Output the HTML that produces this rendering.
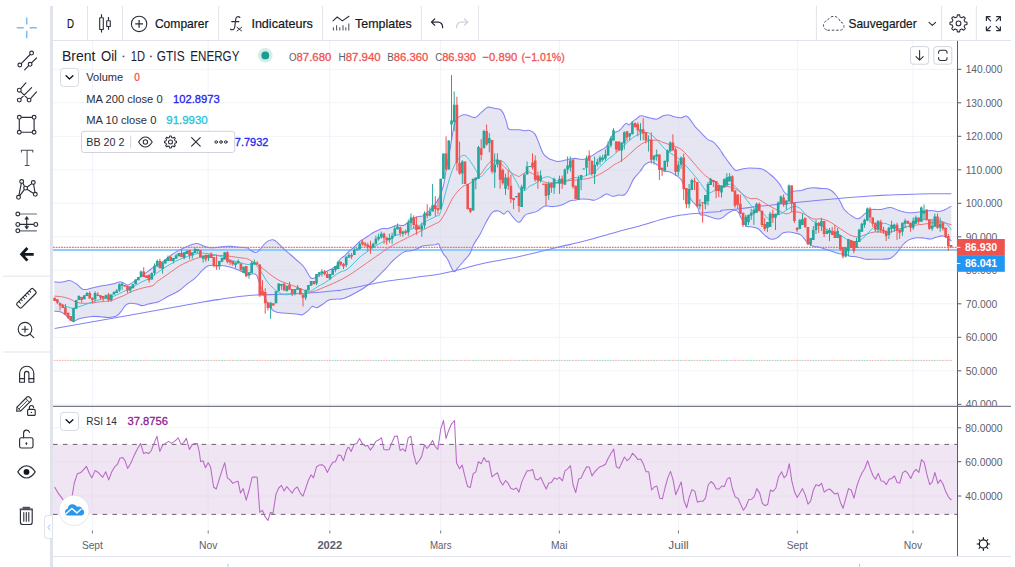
<!DOCTYPE html><html lang="fr"><head><meta charset="utf-8"><title>Brent Oil 1D - Chart</title><style>
html,body{margin:0;padding:0;background:#fff;}
body{width:1015px;height:567px;overflow:hidden;position:relative;font-family:"Liberation Sans",sans-serif;color:#131722;}
#app{position:absolute;left:0;top:0;width:1015px;height:567px;overflow:hidden;background:#fff;}
.left-toolbar{position:absolute;left:0;top:0;width:50px;height:567px;background:#fff;}
.splitter{position:absolute;left:50px;top:6px;width:3px;height:561px;background:#e0e3eb;}
.top-toolbar{position:absolute;left:0;top:0;width:1015px;height:41px;}
.chart-area{position:absolute;left:0;top:0;width:1015px;height:567px;}
.toggle-tab{position:absolute;left:44px;top:515px;width:7px;height:22px;background:#fff;border:1px solid #e0e3eb;border-radius:4px 0 0 4px;border-right:none}
svg{display:block;overflow:visible}
svg text{white-space:pre}
</style></head><body><div id="app">
<div class="chart-area" role="img" aria-label="Brent Oil 1D chart with Bollinger Bands, MA 200, MA 10 and RSI 14"><svg class="chart-svg" width="1015" height="567" viewBox="0 0 1015 567" style="position:absolute;left:0;top:0" font-family='"Liberation Sans", sans-serif'>
<defs><clipPath id="p1"><rect x="53" y="41" width="904.5" height="364.8"/></clipPath><clipPath id="p2"><rect x="53" y="406.8" width="904.5" height="123.2"/></clipPath><clipPath id="ax1"><rect x="958" y="41" width="53" height="364.8"/></clipPath></defs>
<path d="M92.4 41V405.8M92.4 406.8V530M208.2 41V405.8M208.2 406.8V530M329.8 41V405.8M329.8 406.8V530M440.7 41V405.8M440.7 406.8V530M559.3 41V405.8M559.3 406.8V530M678.5 41V405.8M678.5 406.8V530M797.3 41V405.8M797.3 406.8V530M913 41V405.8M913 406.8V530M53 69.3H957M53 102.8H957M53 136.3H957M53 169.8H957M53 203.3H957M53 236.8H957M53 270.3H957M53 303.8H957M53 337.3H957M53 370.8H957M53 404.3H957M53 427.8H957M53 461.7H957M53 496H957" stroke="#f0f3fa" stroke-width="1" fill="none"/>
<g clip-path="url(#p1)">
<clipPath id="bbclip"><path d="M54.3 281.8 C55.8 281.9 59.8 282.4 62.5 282.1 C65.3 281.9 67.1 280.2 69.7 280.6 C72.2 280.9 74.4 282.6 76.8 284.2 C79.2 285.8 80.6 288.7 83.2 289.4 C85.7 290.2 88 288.8 91.1 288.2 C94.2 287.6 97.2 286.8 100.6 286.1 C104 285.5 106.7 285.2 110.1 284.5 C113.6 283.8 117.4 282.5 119.7 282.1 C122 281.8 121.4 282.1 122.8 282.6 C124.3 283.1 125.9 285 127.6 285 C129.3 285 130.1 284 132.4 282.6 C134.7 281.2 137.4 279.1 140.3 277.1 C143.2 275 146 272.9 148.2 271.2 C150.5 269.5 151.6 268.5 153 267.5 C154.4 266.6 154 267 155.9 265.8 C157.9 264.6 161 263 163.9 261 C166.7 259 169 256.7 171.8 254.7 C174.7 252.7 176.9 251.4 179.7 249.9 C182.6 248.4 184.8 247.4 187.7 246.3 C190.5 245.1 193.6 244 195.6 243.6 C197.6 243.1 197.4 243.5 198.8 243.9 C200.2 244.3 201.8 245.3 203.6 246 C205.3 246.6 206 247.3 208.3 247.5 C210.6 247.8 213.4 247.7 216.3 247.5 C219.1 247.3 221.3 246.6 224.2 246.4 C227 246.2 229.3 246.3 232.1 246.4 C235 246.6 237.2 246.9 240.1 247.2 C242.9 247.5 246.3 247.5 248 248 C249.7 248.5 248.3 249.1 249.7 249.9 C251.1 250.7 254 252.6 255.8 252.5 C257.6 252.4 258 251.3 259.9 249.5 C261.7 247.6 263.8 244.1 266 242.4 C268.1 240.6 270.2 239.9 272 239.7 C273.9 239.5 274.3 240 276.1 241.4 C277.9 242.7 279.6 245.1 282.2 247.4 C284.7 249.8 287.4 252 290.3 254.5 C293.2 257.1 295.8 259.3 298.4 261.6 C300.9 264 302.2 264.7 304.5 267.7 C306.8 270.7 308.9 276.7 311.3 278.2 C313.6 279.7 315 277.1 317.6 276 C320.2 274.8 323 273.1 325.5 271.8 C328.1 270.5 329.6 270 331.9 268.7 C334.2 267.3 336.8 266 338.2 264.4 C339.7 262.7 338.8 261.1 340 259.5 C341.2 257.9 343 257.1 344.8 255.6 C346.5 254 347.8 252.4 349.5 250.8 C351.2 249.2 352.6 248.4 354.3 246.8 C356 245.3 357.3 243.5 359 242.1 C360.8 240.6 362.1 240 363.8 238.9 C365.5 237.7 366.9 236.9 368.6 235.7 C370.3 234.6 371.6 233.5 373.3 232.5 C375 231.5 376.4 230.9 378.1 230.2 C379.8 229.4 381.1 228.9 382.9 228.6 C384.6 228.3 385.9 228.9 387.6 228.6 C389.3 228.3 390.7 227.6 392.4 227 C394.1 226.4 395.1 225.4 397.1 225.1 C399.1 224.8 401.5 225.9 403.5 225.4 C405.5 224.9 406.5 223.4 408.3 222.2 C410 221.1 411.3 220 413 219 C414.7 218 416.1 217.2 417.8 216.7 C419.5 216.1 421.1 216.4 422.5 215.9 C424 215.3 424.6 214.3 425.7 213.5 C426.9 212.6 427.5 212.4 428.9 211.1 C430.3 209.8 431.8 208.9 433.7 206.3 C435.5 203.8 437.5 201 439.3 197.2 C441.1 193.3 442.3 190.3 443.6 184.9 C444.9 179.6 445.5 173.4 446.6 167.3 C447.7 161.2 448.6 157.3 449.7 151.1 C450.8 144.9 451.6 138.3 452.7 132.8 C453.8 127.4 454.3 123.8 455.7 120.7 C457.2 117.6 458.8 116.6 460.8 115.6 C462.8 114.6 464.3 114.6 466.9 115 C469.5 115.4 472.5 118.1 475 117.6 C477.6 117.2 478.9 114.4 481.1 112.6 C483.3 110.7 485.3 108.4 487.2 107.5 C489 106.6 489.8 107.3 491.2 107.5 C492.7 107.7 493.6 108.2 495.3 108.5 C496.9 108.9 498.9 108.6 500.3 109.5 C501.8 110.4 502.3 111.4 503.4 113.6 C504.5 115.8 505.5 119 506.4 121.7 C507.3 124.4 507.2 127.3 508.5 128.8 C509.7 130.2 511.5 129.6 513.5 129.8 C515.5 130 517.6 129.6 519.6 129.8 C521.6 130 522.8 130.7 524.7 130.8 C526.5 130.9 527.9 129.9 529.7 130.4 C531.6 131 533.2 131.6 534.8 133.9 C536.4 136.1 537.4 139.5 538.9 143 C540.3 146.4 541.5 150.6 542.9 153.1 C544.4 155.7 545.7 156.1 547 157.2 C548.2 158.3 548.1 158.4 550 159.2 C551.9 160 554.8 161.3 557.6 161.4 C560.4 161.6 562.8 160.5 565.7 160 C568.6 159.5 570.9 158.5 573.8 158.4 C576.7 158.3 579.7 159.3 581.9 159.4 C584.1 159.4 584.2 159.3 586.1 158.7 C587.9 158 590 156.9 592.2 155.6 C594.4 154.3 595.9 153 598.2 151.6 C600.6 150.1 603.5 149.2 605.3 147.6 C607.1 146.1 607.2 145.1 608.5 142.9 C609.7 140.7 610.8 137.4 612.2 135.5 C613.5 133.5 614.7 132.8 615.9 132 C617 131.2 617.6 131.6 618.5 131 C619.5 130.3 620.2 129.6 621.2 128.6 C622.1 127.6 622.9 126.4 623.8 125.4 C624.8 124.5 625.5 123.4 626.5 123.3 C627.4 123.2 628.1 125.1 629.1 124.9 C630.1 124.7 630.8 123.1 631.7 122.2 C632.7 121.4 633.4 120.8 634.4 120.1 C635.3 119.4 635.9 119.3 637 118.5 C638.2 117.7 638.7 115.8 640.8 115.7 C643 115.5 646 117.1 648.9 117.7 C651.8 118.3 654.5 119.5 657 119.1 C659.6 118.8 660.9 116.4 663.1 115.7 C665.3 114.9 667 114.8 669.2 115.1 C671.4 115.3 673.1 116.6 675.3 117.1 C677.5 117.6 679.4 117.9 681.4 117.7 C683.4 117.5 684.8 115.6 686.4 116.1 C688.1 116.5 688.8 118.1 690.5 120.1 C692.1 122.1 693.5 124.9 695.5 127.2 C697.6 129.6 699.4 131.1 701.6 133.3 C703.8 135.5 705.5 137.8 707.7 139.4 C709.9 141 711.6 140.6 713.8 142.4 C716 144.3 718 147.1 719.9 149.5 C721.7 152 722.2 153.4 724.1 156 C725.9 158.6 728.1 161.6 730.1 164.1 C732.1 166.7 733.4 169.2 735.2 170.2 C737 171.2 738.3 170 740.3 169.6 C742.3 169.2 743.8 168.4 746.4 168.2 C748.9 167.9 751.5 168 754.5 168.2 C757.4 168.4 760 168.3 762.6 169.2 C765.1 170.1 766.5 171.6 768.7 173.2 C770.8 174.9 772.7 176.3 774.7 178.3 C776.7 180.3 778.2 182 779.8 184.4 C781.4 186.8 782.6 189.7 783.9 191.5 C785.1 193.3 785.8 194.3 786.9 194.5 C788 194.7 788.5 193.1 789.9 192.5 C791.4 191.9 793 191.4 795 191.1 C797 190.7 798.9 190.9 801.1 190.5 C803.3 190 805 188.9 807.2 188.4 C809.4 188 810.7 187.8 813.2 187.8 C815.8 187.8 818.4 188.2 821.4 188.4 C824.3 188.7 826.9 188.4 829.5 189.5 C832 190.6 833.7 192.5 835.5 194.5 C837.4 196.5 838.1 198.1 839.6 200.6 C841.1 203.2 842.2 206.5 843.7 208.7 C845.1 210.9 846.6 211.7 847.7 212.8 C848.9 213.8 848.1 213.5 850 214.6 C851.9 215.7 855.2 219 858.1 218.7 C861 218.3 863.7 214.2 866.2 212.6 C868.8 210.9 869.7 210.1 872.3 209.5 C874.9 209 877.1 209.9 880.4 209.5 C883.7 209.2 887.3 207.3 890.5 207.5 C893.8 207.7 895.7 209.6 898.7 210.5 C901.6 211.5 903.8 212.2 906.8 212.6 C909.7 212.9 912 212.8 914.9 212.6 C917.8 212.4 920.1 211.9 923 211.6 C925.9 211.2 928.2 210.5 931.1 210.5 C934 210.5 936.6 211.7 939.2 211.6 C941.7 211.4 943.1 210.5 945.3 209.5 C947.5 208.5 950.3 206.7 951.4 206.1 L951.4 241 C950.6 240.4 948.8 238.8 947.3 237.9 C945.8 237 945.1 236.1 943.2 235.9 C941.4 235.7 939.4 236.3 937.2 236.9 C935 237.4 933.6 238.7 931.1 238.9 C928.5 239.1 925.9 238.1 923 237.9 C920.1 237.7 917.4 237.5 914.9 237.9 C912.3 238.3 911 238.7 908.8 239.9 C906.6 241.2 904.9 242.6 902.7 245 C900.5 247.4 898.8 250.7 896.6 253.1 C894.4 255.5 893.1 257.1 890.5 258.2 C888 259.3 885.4 259 882.4 259.2 C879.5 259.4 877.2 259.2 874.3 259.2 C871.4 259.2 869.1 259.6 866.2 259.2 C863.3 258.8 861 257.7 858.1 257.2 C855.2 256.6 851.9 256.6 850 256.2 C848.1 255.8 848.9 255.3 847.7 254.9 C846.6 254.6 845.5 254.6 843.7 254.3 C841.8 254 839.8 253.9 837.6 253.3 C835.4 252.8 833.7 252 831.5 251.3 C829.3 250.6 827.6 250 825.4 249.3 C823.2 248.5 821.5 247.8 819.3 247.2 C817.1 246.7 815.4 247.1 813.2 246.2 C811.1 245.3 809.4 244.2 807.2 242.2 C805 240.2 803.3 236.7 801.1 235.1 C798.9 233.4 797.2 233.6 795 233 C792.8 232.5 791.1 232 788.9 232 C786.7 232 785 232 782.8 233 C780.7 234.1 778.9 237 776.8 238.1 C774.6 239.2 772.9 239.7 770.7 239.1 C768.5 238.6 766.8 236.9 764.6 235.1 C762.4 233.2 760.7 230.5 758.5 229 C756.3 227.5 754.6 227.5 752.4 227 C750.2 226.4 748.4 227.5 746.4 226 C744.3 224.4 742.8 220.8 741.3 218.3 C739.8 215.7 739.4 213.3 738.1 211.9 C736.8 210.5 735.8 210.2 734.1 210.3 C732.4 210.5 730.4 211.6 728.6 212.7 C726.7 213.8 725.5 215.5 723.8 216.7 C722.1 217.8 720.8 218.8 719 219 C717.3 219.3 716 218.7 714.3 218.3 C712.6 217.8 711.2 217.2 709.5 216.7 C707.8 216.1 706.5 215.5 704.8 215.1 C703 214.7 701.3 215.7 700 214.3 C698.7 212.9 699.1 209.8 697.6 207.3 C696 204.8 693.7 203.3 691.5 200.2 C689.3 197.1 687.2 193.7 685.4 190.1 C683.6 186.4 683.2 182.7 681.4 179.9 C679.5 177.2 677.5 176.3 675.3 174.9 C673.1 173.4 671.4 172.6 669.2 171.8 C667 171.1 665.3 172.1 663.1 170.8 C660.9 169.5 659.2 166.4 657 164.7 C654.8 163.1 653.1 161.7 651 161.7 C648.8 161.7 646.9 162.9 644.9 164.7 C642.9 166.6 641.8 169.3 639.8 171.8 C637.8 174.4 635.7 175.8 633.7 178.9 C631.7 182 630.3 186.2 628.7 189.1 C627 191.9 626.4 193.6 624.6 194.7 C622.8 195.8 620.7 194.9 618.5 195.1 C616.3 195.4 614.6 196.3 612.4 196.2 C610.2 196 608.5 193.9 606.4 194.1 C604.2 194.4 602.5 196.5 600.3 197.6 C598.1 198.7 596.4 199.9 594.2 200.2 C592 200.5 590.3 199.4 588.1 199.2 C585.9 199 583.4 198.9 581.9 198.9 C580.4 198.9 581.1 199 580 199.2 C578.9 199.4 577.7 199.6 575.8 199.9 C574 200.3 572.3 200 569.7 201 C567.2 201.9 564.5 204 561.6 205 C558.7 206 556.4 206.4 553.5 206.6 C550.6 206.8 547.6 205.8 545.4 206 C543.2 206.3 542.8 207.1 541.4 208 C539.9 209 539.1 210.2 537.3 211.1 C535.5 212 533.4 212.4 531.2 213.1 C529 213.8 527.3 213.5 525.1 215.1 C523 216.8 521.2 221.9 519.1 222.2 C516.9 222.6 515 219.2 513 217.2 C511 215.2 509.6 211.6 507.9 211.1 C506.3 210.5 505.5 214.1 503.9 214.1 C502.2 214.1 500.8 211.5 498.8 211.1 C496.8 210.7 494.9 210.3 492.7 212.1 C490.5 213.9 488.8 217.4 486.6 221.2 C484.4 225.1 482.9 229.1 480.5 233.4 C478.2 237.7 475.4 241.2 473.4 244.9 C471.5 248.6 471.5 251 469.7 253.9 C468 256.8 465.8 258.5 463.7 261 C461.5 263.6 459.4 266.3 457.6 268.1 C455.8 269.9 455.3 272.8 453.5 271.2 C451.7 269.5 449.3 262.1 447.4 259 C445.6 255.9 444.7 256.1 443.4 253.9 C442 251.7 440.9 248.7 440 246.8 C439.1 245 439.3 244 438.4 243.7 C437.6 243.3 437 244.5 435.2 244.8 C433.5 245 431.2 245 428.9 245.2 C426.6 245.5 424.5 245.5 422.5 246 C420.5 246.6 419.8 247.6 417.8 248.4 C415.8 249.3 413.7 250.2 411.4 250.8 C409.1 251.4 407.4 250.7 405.1 251.6 C402.8 252.4 401 253.8 398.7 255.6 C396.4 257.3 394.7 258.8 392.4 261.1 C390.1 263.4 388.3 265.8 386 268.3 C383.7 270.7 382 272.3 379.7 274.6 C377.4 276.9 375.6 279 373.3 281 C371 283 369.3 284.1 367 285.7 C364.7 287.3 364.6 287.8 360.6 290 C356.7 292.2 349.3 296.5 345 298.1 C340.7 299.8 339.8 298.8 336.9 299.1 C334 299.5 331.3 299.2 328.8 300.1 C326.2 301.1 324.9 302.8 322.7 304.2 C320.5 305.6 318.5 307.5 316.6 307.8 C314.8 308.2 314 305.8 312.6 306.2 C311.1 306.7 310.3 308.7 308.5 310.3 C306.7 311.8 304.6 314.1 302.4 314.7 C300.3 315.4 299.3 314.2 296.4 313.9 C293.4 313.7 289.9 313.7 286.2 313.3 C282.6 313 278.6 312.6 276.1 311.9 C273.5 311.2 273.9 311.4 272 309.3 C270.2 307.1 268.1 304.7 266 300.1 C263.8 295.6 261.7 288.6 259.9 283.9 C258 279.3 258 276.1 255.8 274.4 C253.7 272.7 250.3 274.9 248 274.5 C245.7 274.1 245.8 273.3 243.2 272.1 C240.7 271 237.1 269.3 233.7 268.2 C230.3 267 227.3 266.3 224.2 265.8 C221 265.3 219.1 265.5 216.3 265.5 C213.4 265.5 210.9 264.9 208.3 265.8 C205.7 266.7 204.3 268.4 202 270.6 C199.7 272.7 198.5 275.1 195.6 277.7 C192.8 280.3 189.2 282.4 186.1 284.8 C183 287.3 181.3 289.2 178.2 291.2 C175 293.2 172.1 294.1 168.6 296 C165.2 297.8 161.9 300.3 159.1 301.5 C156.3 302.8 155 302.5 153 302.9 C151 303.4 150.2 303.6 148.2 304 C146.2 304.5 143.9 305.6 141.9 305.6 C139.9 305.6 139.1 304.5 137.1 304 C135.1 303.6 132.8 303.1 130.8 303.3 C128.8 303.4 127.7 303.4 126 304.8 C124.3 306.3 123 309.2 121.3 311.2 C119.5 313.2 118.8 314.8 116.5 316 C114.2 317.1 111.4 317.4 108.6 317.5 C105.7 317.7 103.5 316.9 100.6 316.7 C97.8 316.5 95.5 316.3 92.7 316.4 C89.8 316.6 87.3 317.1 84.7 317.5 C82.2 318 80.4 318.4 78.4 319.1 C76.4 319.8 75.1 321.4 73.6 321.5 C72.2 321.7 71.9 321.1 70.5 319.9 C69 318.8 67.4 316.6 65.7 315.2 C64 313.7 63 312.7 60.9 312 C58.9 311.3 55.5 311.3 54.3 311.2Z"/></clipPath>
<path d="M54.3 281.8 C55.8 281.9 59.8 282.4 62.5 282.1 C65.3 281.9 67.1 280.2 69.7 280.6 C72.2 280.9 74.4 282.6 76.8 284.2 C79.2 285.8 80.6 288.7 83.2 289.4 C85.7 290.2 88 288.8 91.1 288.2 C94.2 287.6 97.2 286.8 100.6 286.1 C104 285.5 106.7 285.2 110.1 284.5 C113.6 283.8 117.4 282.5 119.7 282.1 C122 281.8 121.4 282.1 122.8 282.6 C124.3 283.1 125.9 285 127.6 285 C129.3 285 130.1 284 132.4 282.6 C134.7 281.2 137.4 279.1 140.3 277.1 C143.2 275 146 272.9 148.2 271.2 C150.5 269.5 151.6 268.5 153 267.5 C154.4 266.6 154 267 155.9 265.8 C157.9 264.6 161 263 163.9 261 C166.7 259 169 256.7 171.8 254.7 C174.7 252.7 176.9 251.4 179.7 249.9 C182.6 248.4 184.8 247.4 187.7 246.3 C190.5 245.1 193.6 244 195.6 243.6 C197.6 243.1 197.4 243.5 198.8 243.9 C200.2 244.3 201.8 245.3 203.6 246 C205.3 246.6 206 247.3 208.3 247.5 C210.6 247.8 213.4 247.7 216.3 247.5 C219.1 247.3 221.3 246.6 224.2 246.4 C227 246.2 229.3 246.3 232.1 246.4 C235 246.6 237.2 246.9 240.1 247.2 C242.9 247.5 246.3 247.5 248 248 C249.7 248.5 248.3 249.1 249.7 249.9 C251.1 250.7 254 252.6 255.8 252.5 C257.6 252.4 258 251.3 259.9 249.5 C261.7 247.6 263.8 244.1 266 242.4 C268.1 240.6 270.2 239.9 272 239.7 C273.9 239.5 274.3 240 276.1 241.4 C277.9 242.7 279.6 245.1 282.2 247.4 C284.7 249.8 287.4 252 290.3 254.5 C293.2 257.1 295.8 259.3 298.4 261.6 C300.9 264 302.2 264.7 304.5 267.7 C306.8 270.7 308.9 276.7 311.3 278.2 C313.6 279.7 315 277.1 317.6 276 C320.2 274.8 323 273.1 325.5 271.8 C328.1 270.5 329.6 270 331.9 268.7 C334.2 267.3 336.8 266 338.2 264.4 C339.7 262.7 338.8 261.1 340 259.5 C341.2 257.9 343 257.1 344.8 255.6 C346.5 254 347.8 252.4 349.5 250.8 C351.2 249.2 352.6 248.4 354.3 246.8 C356 245.3 357.3 243.5 359 242.1 C360.8 240.6 362.1 240 363.8 238.9 C365.5 237.7 366.9 236.9 368.6 235.7 C370.3 234.6 371.6 233.5 373.3 232.5 C375 231.5 376.4 230.9 378.1 230.2 C379.8 229.4 381.1 228.9 382.9 228.6 C384.6 228.3 385.9 228.9 387.6 228.6 C389.3 228.3 390.7 227.6 392.4 227 C394.1 226.4 395.1 225.4 397.1 225.1 C399.1 224.8 401.5 225.9 403.5 225.4 C405.5 224.9 406.5 223.4 408.3 222.2 C410 221.1 411.3 220 413 219 C414.7 218 416.1 217.2 417.8 216.7 C419.5 216.1 421.1 216.4 422.5 215.9 C424 215.3 424.6 214.3 425.7 213.5 C426.9 212.6 427.5 212.4 428.9 211.1 C430.3 209.8 431.8 208.9 433.7 206.3 C435.5 203.8 437.5 201 439.3 197.2 C441.1 193.3 442.3 190.3 443.6 184.9 C444.9 179.6 445.5 173.4 446.6 167.3 C447.7 161.2 448.6 157.3 449.7 151.1 C450.8 144.9 451.6 138.3 452.7 132.8 C453.8 127.4 454.3 123.8 455.7 120.7 C457.2 117.6 458.8 116.6 460.8 115.6 C462.8 114.6 464.3 114.6 466.9 115 C469.5 115.4 472.5 118.1 475 117.6 C477.6 117.2 478.9 114.4 481.1 112.6 C483.3 110.7 485.3 108.4 487.2 107.5 C489 106.6 489.8 107.3 491.2 107.5 C492.7 107.7 493.6 108.2 495.3 108.5 C496.9 108.9 498.9 108.6 500.3 109.5 C501.8 110.4 502.3 111.4 503.4 113.6 C504.5 115.8 505.5 119 506.4 121.7 C507.3 124.4 507.2 127.3 508.5 128.8 C509.7 130.2 511.5 129.6 513.5 129.8 C515.5 130 517.6 129.6 519.6 129.8 C521.6 130 522.8 130.7 524.7 130.8 C526.5 130.9 527.9 129.9 529.7 130.4 C531.6 131 533.2 131.6 534.8 133.9 C536.4 136.1 537.4 139.5 538.9 143 C540.3 146.4 541.5 150.6 542.9 153.1 C544.4 155.7 545.7 156.1 547 157.2 C548.2 158.3 548.1 158.4 550 159.2 C551.9 160 554.8 161.3 557.6 161.4 C560.4 161.6 562.8 160.5 565.7 160 C568.6 159.5 570.9 158.5 573.8 158.4 C576.7 158.3 579.7 159.3 581.9 159.4 C584.1 159.4 584.2 159.3 586.1 158.7 C587.9 158 590 156.9 592.2 155.6 C594.4 154.3 595.9 153 598.2 151.6 C600.6 150.1 603.5 149.2 605.3 147.6 C607.1 146.1 607.2 145.1 608.5 142.9 C609.7 140.7 610.8 137.4 612.2 135.5 C613.5 133.5 614.7 132.8 615.9 132 C617 131.2 617.6 131.6 618.5 131 C619.5 130.3 620.2 129.6 621.2 128.6 C622.1 127.6 622.9 126.4 623.8 125.4 C624.8 124.5 625.5 123.4 626.5 123.3 C627.4 123.2 628.1 125.1 629.1 124.9 C630.1 124.7 630.8 123.1 631.7 122.2 C632.7 121.4 633.4 120.8 634.4 120.1 C635.3 119.4 635.9 119.3 637 118.5 C638.2 117.7 638.7 115.8 640.8 115.7 C643 115.5 646 117.1 648.9 117.7 C651.8 118.3 654.5 119.5 657 119.1 C659.6 118.8 660.9 116.4 663.1 115.7 C665.3 114.9 667 114.8 669.2 115.1 C671.4 115.3 673.1 116.6 675.3 117.1 C677.5 117.6 679.4 117.9 681.4 117.7 C683.4 117.5 684.8 115.6 686.4 116.1 C688.1 116.5 688.8 118.1 690.5 120.1 C692.1 122.1 693.5 124.9 695.5 127.2 C697.6 129.6 699.4 131.1 701.6 133.3 C703.8 135.5 705.5 137.8 707.7 139.4 C709.9 141 711.6 140.6 713.8 142.4 C716 144.3 718 147.1 719.9 149.5 C721.7 152 722.2 153.4 724.1 156 C725.9 158.6 728.1 161.6 730.1 164.1 C732.1 166.7 733.4 169.2 735.2 170.2 C737 171.2 738.3 170 740.3 169.6 C742.3 169.2 743.8 168.4 746.4 168.2 C748.9 167.9 751.5 168 754.5 168.2 C757.4 168.4 760 168.3 762.6 169.2 C765.1 170.1 766.5 171.6 768.7 173.2 C770.8 174.9 772.7 176.3 774.7 178.3 C776.7 180.3 778.2 182 779.8 184.4 C781.4 186.8 782.6 189.7 783.9 191.5 C785.1 193.3 785.8 194.3 786.9 194.5 C788 194.7 788.5 193.1 789.9 192.5 C791.4 191.9 793 191.4 795 191.1 C797 190.7 798.9 190.9 801.1 190.5 C803.3 190 805 188.9 807.2 188.4 C809.4 188 810.7 187.8 813.2 187.8 C815.8 187.8 818.4 188.2 821.4 188.4 C824.3 188.7 826.9 188.4 829.5 189.5 C832 190.6 833.7 192.5 835.5 194.5 C837.4 196.5 838.1 198.1 839.6 200.6 C841.1 203.2 842.2 206.5 843.7 208.7 C845.1 210.9 846.6 211.7 847.7 212.8 C848.9 213.8 848.1 213.5 850 214.6 C851.9 215.7 855.2 219 858.1 218.7 C861 218.3 863.7 214.2 866.2 212.6 C868.8 210.9 869.7 210.1 872.3 209.5 C874.9 209 877.1 209.9 880.4 209.5 C883.7 209.2 887.3 207.3 890.5 207.5 C893.8 207.7 895.7 209.6 898.7 210.5 C901.6 211.5 903.8 212.2 906.8 212.6 C909.7 212.9 912 212.8 914.9 212.6 C917.8 212.4 920.1 211.9 923 211.6 C925.9 211.2 928.2 210.5 931.1 210.5 C934 210.5 936.6 211.7 939.2 211.6 C941.7 211.4 943.1 210.5 945.3 209.5 C947.5 208.5 950.3 206.7 951.4 206.1 L951.4 241 C950.6 240.4 948.8 238.8 947.3 237.9 C945.8 237 945.1 236.1 943.2 235.9 C941.4 235.7 939.4 236.3 937.2 236.9 C935 237.4 933.6 238.7 931.1 238.9 C928.5 239.1 925.9 238.1 923 237.9 C920.1 237.7 917.4 237.5 914.9 237.9 C912.3 238.3 911 238.7 908.8 239.9 C906.6 241.2 904.9 242.6 902.7 245 C900.5 247.4 898.8 250.7 896.6 253.1 C894.4 255.5 893.1 257.1 890.5 258.2 C888 259.3 885.4 259 882.4 259.2 C879.5 259.4 877.2 259.2 874.3 259.2 C871.4 259.2 869.1 259.6 866.2 259.2 C863.3 258.8 861 257.7 858.1 257.2 C855.2 256.6 851.9 256.6 850 256.2 C848.1 255.8 848.9 255.3 847.7 254.9 C846.6 254.6 845.5 254.6 843.7 254.3 C841.8 254 839.8 253.9 837.6 253.3 C835.4 252.8 833.7 252 831.5 251.3 C829.3 250.6 827.6 250 825.4 249.3 C823.2 248.5 821.5 247.8 819.3 247.2 C817.1 246.7 815.4 247.1 813.2 246.2 C811.1 245.3 809.4 244.2 807.2 242.2 C805 240.2 803.3 236.7 801.1 235.1 C798.9 233.4 797.2 233.6 795 233 C792.8 232.5 791.1 232 788.9 232 C786.7 232 785 232 782.8 233 C780.7 234.1 778.9 237 776.8 238.1 C774.6 239.2 772.9 239.7 770.7 239.1 C768.5 238.6 766.8 236.9 764.6 235.1 C762.4 233.2 760.7 230.5 758.5 229 C756.3 227.5 754.6 227.5 752.4 227 C750.2 226.4 748.4 227.5 746.4 226 C744.3 224.4 742.8 220.8 741.3 218.3 C739.8 215.7 739.4 213.3 738.1 211.9 C736.8 210.5 735.8 210.2 734.1 210.3 C732.4 210.5 730.4 211.6 728.6 212.7 C726.7 213.8 725.5 215.5 723.8 216.7 C722.1 217.8 720.8 218.8 719 219 C717.3 219.3 716 218.7 714.3 218.3 C712.6 217.8 711.2 217.2 709.5 216.7 C707.8 216.1 706.5 215.5 704.8 215.1 C703 214.7 701.3 215.7 700 214.3 C698.7 212.9 699.1 209.8 697.6 207.3 C696 204.8 693.7 203.3 691.5 200.2 C689.3 197.1 687.2 193.7 685.4 190.1 C683.6 186.4 683.2 182.7 681.4 179.9 C679.5 177.2 677.5 176.3 675.3 174.9 C673.1 173.4 671.4 172.6 669.2 171.8 C667 171.1 665.3 172.1 663.1 170.8 C660.9 169.5 659.2 166.4 657 164.7 C654.8 163.1 653.1 161.7 651 161.7 C648.8 161.7 646.9 162.9 644.9 164.7 C642.9 166.6 641.8 169.3 639.8 171.8 C637.8 174.4 635.7 175.8 633.7 178.9 C631.7 182 630.3 186.2 628.7 189.1 C627 191.9 626.4 193.6 624.6 194.7 C622.8 195.8 620.7 194.9 618.5 195.1 C616.3 195.4 614.6 196.3 612.4 196.2 C610.2 196 608.5 193.9 606.4 194.1 C604.2 194.4 602.5 196.5 600.3 197.6 C598.1 198.7 596.4 199.9 594.2 200.2 C592 200.5 590.3 199.4 588.1 199.2 C585.9 199 583.4 198.9 581.9 198.9 C580.4 198.9 581.1 199 580 199.2 C578.9 199.4 577.7 199.6 575.8 199.9 C574 200.3 572.3 200 569.7 201 C567.2 201.9 564.5 204 561.6 205 C558.7 206 556.4 206.4 553.5 206.6 C550.6 206.8 547.6 205.8 545.4 206 C543.2 206.3 542.8 207.1 541.4 208 C539.9 209 539.1 210.2 537.3 211.1 C535.5 212 533.4 212.4 531.2 213.1 C529 213.8 527.3 213.5 525.1 215.1 C523 216.8 521.2 221.9 519.1 222.2 C516.9 222.6 515 219.2 513 217.2 C511 215.2 509.6 211.6 507.9 211.1 C506.3 210.5 505.5 214.1 503.9 214.1 C502.2 214.1 500.8 211.5 498.8 211.1 C496.8 210.7 494.9 210.3 492.7 212.1 C490.5 213.9 488.8 217.4 486.6 221.2 C484.4 225.1 482.9 229.1 480.5 233.4 C478.2 237.7 475.4 241.2 473.4 244.9 C471.5 248.6 471.5 251 469.7 253.9 C468 256.8 465.8 258.5 463.7 261 C461.5 263.6 459.4 266.3 457.6 268.1 C455.8 269.9 455.3 272.8 453.5 271.2 C451.7 269.5 449.3 262.1 447.4 259 C445.6 255.9 444.7 256.1 443.4 253.9 C442 251.7 440.9 248.7 440 246.8 C439.1 245 439.3 244 438.4 243.7 C437.6 243.3 437 244.5 435.2 244.8 C433.5 245 431.2 245 428.9 245.2 C426.6 245.5 424.5 245.5 422.5 246 C420.5 246.6 419.8 247.6 417.8 248.4 C415.8 249.3 413.7 250.2 411.4 250.8 C409.1 251.4 407.4 250.7 405.1 251.6 C402.8 252.4 401 253.8 398.7 255.6 C396.4 257.3 394.7 258.8 392.4 261.1 C390.1 263.4 388.3 265.8 386 268.3 C383.7 270.7 382 272.3 379.7 274.6 C377.4 276.9 375.6 279 373.3 281 C371 283 369.3 284.1 367 285.7 C364.7 287.3 364.6 287.8 360.6 290 C356.7 292.2 349.3 296.5 345 298.1 C340.7 299.8 339.8 298.8 336.9 299.1 C334 299.5 331.3 299.2 328.8 300.1 C326.2 301.1 324.9 302.8 322.7 304.2 C320.5 305.6 318.5 307.5 316.6 307.8 C314.8 308.2 314 305.8 312.6 306.2 C311.1 306.7 310.3 308.7 308.5 310.3 C306.7 311.8 304.6 314.1 302.4 314.7 C300.3 315.4 299.3 314.2 296.4 313.9 C293.4 313.7 289.9 313.7 286.2 313.3 C282.6 313 278.6 312.6 276.1 311.9 C273.5 311.2 273.9 311.4 272 309.3 C270.2 307.1 268.1 304.7 266 300.1 C263.8 295.6 261.7 288.6 259.9 283.9 C258 279.3 258 276.1 255.8 274.4 C253.7 272.7 250.3 274.9 248 274.5 C245.7 274.1 245.8 273.3 243.2 272.1 C240.7 271 237.1 269.3 233.7 268.2 C230.3 267 227.3 266.3 224.2 265.8 C221 265.3 219.1 265.5 216.3 265.5 C213.4 265.5 210.9 264.9 208.3 265.8 C205.7 266.7 204.3 268.4 202 270.6 C199.7 272.7 198.5 275.1 195.6 277.7 C192.8 280.3 189.2 282.4 186.1 284.8 C183 287.3 181.3 289.2 178.2 291.2 C175 293.2 172.1 294.1 168.6 296 C165.2 297.8 161.9 300.3 159.1 301.5 C156.3 302.8 155 302.5 153 302.9 C151 303.4 150.2 303.6 148.2 304 C146.2 304.5 143.9 305.6 141.9 305.6 C139.9 305.6 139.1 304.5 137.1 304 C135.1 303.6 132.8 303.1 130.8 303.3 C128.8 303.4 127.7 303.4 126 304.8 C124.3 306.3 123 309.2 121.3 311.2 C119.5 313.2 118.8 314.8 116.5 316 C114.2 317.1 111.4 317.4 108.6 317.5 C105.7 317.7 103.5 316.9 100.6 316.7 C97.8 316.5 95.5 316.3 92.7 316.4 C89.8 316.6 87.3 317.1 84.7 317.5 C82.2 318 80.4 318.4 78.4 319.1 C76.4 319.8 75.1 321.4 73.6 321.5 C72.2 321.7 71.9 321.1 70.5 319.9 C69 318.8 67.4 316.6 65.7 315.2 C64 313.7 63 312.7 60.9 312 C58.9 311.3 55.5 311.3 54.3 311.2Z" fill="#e6e6f3" stroke="none"/>
<path d="M92.4 41V405M208.2 41V405M329.8 41V405M440.7 41V405M559.3 41V405M678.5 41V405M797.3 41V405M913 41V405M53 69.3H957M53 102.8H957M53 136.3H957M53 169.8H957M53 203.3H957M53 236.8H957M53 270.3H957M53 303.8H957M53 337.3H957M53 370.8H957M53 404.3H957" stroke="#dcdeee" stroke-width="1" fill="none" opacity="0.6" clip-path="url(#bbclip)"/>
<path d="M53.6 360.4h2M56.3 360.4h2M59 360.4h2M61.7 360.4h2M64.4 360.4h2M67.1 360.4h2M69.8 360.4h2M80.6 360.4h2M88.7 360.4h2M91.4 360.4h2M96.8 360.4h2M99.5 360.4h2M102.2 360.4h2M107.6 360.4h2M123.8 360.4h2M126.5 360.4h2M142.7 360.4h2M145.4 360.4h2M148.1 360.4h2M158.9 360.4h2M169.7 360.4h2M180.5 360.4h2M188.6 360.4h2M199.4 360.4h2M204.8 360.4h2M210.2 360.4h2M212.9 360.4h2M215.6 360.4h2M226.4 360.4h2M229.1 360.4h2M231.8 360.4h2M239.9 360.4h2M245.3 360.4h2M256.1 360.4h2M258.8 360.4h2M261.5 360.4h2M264.2 360.4h2M266.9 360.4h2M272.3 360.4h2M283.1 360.4h2M288.5 360.4h2M291.2 360.4h2M299.3 360.4h2M302 360.4h2M312.8 360.4h2M323.6 360.4h2M326.3 360.4h2M339.8 360.4h2M342.5 360.4h2M350.6 360.4h2M361.4 360.4h2M364.1 360.4h2M366.8 360.4h2M369.5 360.4h2M383 360.4h2M385.7 360.4h2M399.2 360.4h2M404.6 360.4h2M412.7 360.4h2M415.4 360.4h2M418.1 360.4h2M426.2 360.4h2M434.3 360.4h2M437 360.4h2M445.1 360.4h2M455.9 360.4h2M458.6 360.4h2M464 360.4h2M466.7 360.4h2M469.4 360.4h2M480.2 360.4h2M485.6 360.4h2M491 360.4h2M499.1 360.4h2M501.8 360.4h2M507.2 360.4h2M509.9 360.4h2M512.6 360.4h2M518 360.4h2M531.5 360.4h2M534.2 360.4h2M536.9 360.4h2M542.3 360.4h2M545 360.4h2M550.4 360.4h2M561.2 360.4h2M572 360.4h2M574.7 360.4h2M588.2 360.4h2M590.9 360.4h2M615.2 360.4h2M617.9 360.4h2M626 360.4h2M634.1 360.4h2M636.8 360.4h2M642.2 360.4h2M644.9 360.4h2M650.3 360.4h2M658.4 360.4h2M661.1 360.4h2M671.9 360.4h2M674.6 360.4h2M682.7 360.4h2M685.4 360.4h2M693.5 360.4h2M696.2 360.4h2M701.6 360.4h2M712.4 360.4h2M715.1 360.4h2M717.8 360.4h2M731.3 360.4h2M734 360.4h2M736.7 360.4h2M739.4 360.4h2M742.1 360.4h2M758.3 360.4h2M761 360.4h2M763.7 360.4h2M771.8 360.4h2M782.6 360.4h2M790.7 360.4h2M793.4 360.4h2M796.1 360.4h2M804.2 360.4h2M806.9 360.4h2M817.7 360.4h2M823.1 360.4h2M831.2 360.4h2M833.9 360.4h2M839.3 360.4h2M842 360.4h2M850.1 360.4h2M852.8 360.4h2M869 360.4h2M871.7 360.4h2M874.4 360.4h2M879.8 360.4h2M882.5 360.4h2M885.2 360.4h2M896 360.4h2M898.7 360.4h2M906.8 360.4h2M909.5 360.4h2M917.6 360.4h2M925.7 360.4h2M928.4 360.4h2M936.5 360.4h2M941.9 360.4h2M944.6 360.4h2M947.3 360.4h2M950 360.4h2" stroke="#f9b7b5" stroke-width="1" fill="none"/><path d="M72.5 360.4h2M75.2 360.4h2M77.9 360.4h2M83.3 360.4h2M86 360.4h2M94.1 360.4h2M104.9 360.4h2M110.3 360.4h2M113 360.4h2M115.7 360.4h2M118.4 360.4h2M121.1 360.4h2M129.2 360.4h2M131.9 360.4h2M134.6 360.4h2M137.3 360.4h2M140 360.4h2M150.8 360.4h2M153.5 360.4h2M156.2 360.4h2M161.6 360.4h2M164.3 360.4h2M167 360.4h2M172.4 360.4h2M175.1 360.4h2M177.8 360.4h2M183.2 360.4h2M185.9 360.4h2M191.3 360.4h2M194 360.4h2M196.7 360.4h2M202.1 360.4h2M207.5 360.4h2M218.3 360.4h2M221 360.4h2M223.7 360.4h2M234.5 360.4h2M237.2 360.4h2M242.6 360.4h2M248 360.4h2M250.7 360.4h2M253.4 360.4h2M269.6 360.4h2M275 360.4h2M277.7 360.4h2M280.4 360.4h2M285.8 360.4h2M293.9 360.4h2M296.6 360.4h2M304.7 360.4h2M307.4 360.4h2M310.1 360.4h2M315.5 360.4h2M318.2 360.4h2M320.9 360.4h2M329 360.4h2M331.7 360.4h2M334.4 360.4h2M337.1 360.4h2M345.2 360.4h2M347.9 360.4h2M353.3 360.4h2M356 360.4h2M358.7 360.4h2M372.2 360.4h2M374.9 360.4h2M377.6 360.4h2M380.3 360.4h2M388.4 360.4h2M391.1 360.4h2M393.8 360.4h2M396.5 360.4h2M401.9 360.4h2M407.3 360.4h2M410 360.4h2M420.8 360.4h2M423.5 360.4h2M428.9 360.4h2M431.6 360.4h2M439.7 360.4h2M442.4 360.4h2M447.8 360.4h2M450.5 360.4h2M453.2 360.4h2M461.3 360.4h2M472.1 360.4h2M474.8 360.4h2M477.5 360.4h2M482.9 360.4h2M488.3 360.4h2M493.7 360.4h2M496.4 360.4h2M504.5 360.4h2M515.3 360.4h2M520.7 360.4h2M523.4 360.4h2M526.1 360.4h2M528.8 360.4h2M539.6 360.4h2M547.7 360.4h2M553.1 360.4h2M555.8 360.4h2M558.5 360.4h2M563.9 360.4h2M566.6 360.4h2M569.3 360.4h2M577.4 360.4h2M580.1 360.4h2M582.8 360.4h2M585.5 360.4h2M593.6 360.4h2M596.3 360.4h2M599 360.4h2M601.7 360.4h2M604.4 360.4h2M607.1 360.4h2M609.8 360.4h2M612.5 360.4h2M620.6 360.4h2M623.3 360.4h2M628.7 360.4h2M631.4 360.4h2M639.5 360.4h2M647.6 360.4h2M653 360.4h2M655.7 360.4h2M663.8 360.4h2M666.5 360.4h2M669.2 360.4h2M677.3 360.4h2M680 360.4h2M688.1 360.4h2M690.8 360.4h2M698.9 360.4h2M704.3 360.4h2M707 360.4h2M709.7 360.4h2M720.5 360.4h2M723.2 360.4h2M725.9 360.4h2M728.6 360.4h2M744.8 360.4h2M747.5 360.4h2M750.2 360.4h2M752.9 360.4h2M755.6 360.4h2M766.4 360.4h2M769.1 360.4h2M774.5 360.4h2M777.2 360.4h2M779.9 360.4h2M785.3 360.4h2M788 360.4h2M798.8 360.4h2M801.5 360.4h2M809.6 360.4h2M812.3 360.4h2M815 360.4h2M820.4 360.4h2M825.8 360.4h2M828.5 360.4h2M836.6 360.4h2M844.7 360.4h2M847.4 360.4h2M855.5 360.4h2M858.2 360.4h2M860.9 360.4h2M863.6 360.4h2M866.3 360.4h2M877.1 360.4h2M887.9 360.4h2M890.6 360.4h2M893.3 360.4h2M901.4 360.4h2M904.1 360.4h2M912.2 360.4h2M914.9 360.4h2M920.3 360.4h2M923 360.4h2M931.1 360.4h2M933.8 360.4h2M939.2 360.4h2" stroke="#a6d8c4" stroke-width="1" fill="none"/>
<path d="M53 250H957" stroke="#90caf9" stroke-width="2.2" fill="none"/>
<path d="M53 247.3H957" stroke="#ef5350" stroke-width="1" stroke-dasharray="1.8 0.9" fill="none"/>
<path d="M54.6 328.5 C81.3 323.7 174.1 307.2 203 302.1 C231.9 297 209.4 301 215.3 300.1 C221.1 299.2 228.2 298 235.5 297.1 C242.8 296.2 248.5 295.5 255.8 295.1 C263.1 294.6 268.8 294.7 276.1 294.5 C283.4 294.2 289.1 294 296.4 293.7 C303.7 293.3 309.3 293 316.6 292.4 C323.9 291.9 332.7 290.8 336.9 290.4 C341.1 290 335.8 291.1 340 290.4 C344.2 289.7 353 287.8 360.3 286.4 C367.6 284.9 373.2 283.6 380.5 282.3 C387.8 281 393.5 280.3 400.8 279.3 C408.1 278.2 413.8 277.6 421.1 276.6 C428.4 275.6 434.1 275.1 441.4 273.8 C448.7 272.4 454.3 271 461.6 269.1 C468.9 267.3 471.3 266 481.9 263.7 C492.5 261.3 506.7 259.2 520.5 256.2 C534.3 253.2 549 249.4 558.6 247.1 C568.2 244.8 568.3 244.9 574 243.6 C579.7 242.2 582.6 241.6 590 239.6 C597.4 237.6 605.5 235.1 615 232.5 C624.5 229.9 634.5 227.3 642.8 224.9 C651.1 222.6 654.2 221.3 661.1 219.5 C668 217.7 674.1 216.2 681.4 215 C688.7 213.8 694.7 213.6 701.6 213 C708.6 212.3 716.4 211.8 720 211.4 C723.6 210.9 718.3 210.8 721.9 210.3 C725.6 209.9 733.3 209.5 740.3 208.7 C747.2 208 753.2 206.9 760.5 206.1 C767.8 205.2 773.5 204.8 780.8 204.1 C788.1 203.3 793.8 202.8 801.1 202 C808.4 201.3 814.1 200.7 821.4 200 C828.7 199.3 836.5 198.7 841.6 198.2 C846.8 197.7 844.8 197.8 850 197.4 C855.2 197 863 196.4 870.3 195.9 C877.6 195.5 883.2 195.2 890.5 194.9 C897.8 194.6 903.5 194.5 910.8 194.3 C918.1 194.1 923.8 193.8 931.1 193.7 C938.4 193.6 947.7 193.7 951.4 193.7" stroke="#8282f6" stroke-width="1.05" fill="none" stroke-linejoin="round"/>
<path d="M54.3 281.8 C55.8 281.9 59.8 282.4 62.5 282.1 C65.3 281.9 67.1 280.2 69.7 280.6 C72.2 280.9 74.4 282.6 76.8 284.2 C79.2 285.8 80.6 288.7 83.2 289.4 C85.7 290.2 88 288.8 91.1 288.2 C94.2 287.6 97.2 286.8 100.6 286.1 C104 285.5 106.7 285.2 110.1 284.5 C113.6 283.8 117.4 282.5 119.7 282.1 C122 281.8 121.4 282.1 122.8 282.6 C124.3 283.1 125.9 285 127.6 285 C129.3 285 130.1 284 132.4 282.6 C134.7 281.2 137.4 279.1 140.3 277.1 C143.2 275 146 272.9 148.2 271.2 C150.5 269.5 151.6 268.5 153 267.5 C154.4 266.6 154 267 155.9 265.8 C157.9 264.6 161 263 163.9 261 C166.7 259 169 256.7 171.8 254.7 C174.7 252.7 176.9 251.4 179.7 249.9 C182.6 248.4 184.8 247.4 187.7 246.3 C190.5 245.1 193.6 244 195.6 243.6 C197.6 243.1 197.4 243.5 198.8 243.9 C200.2 244.3 201.8 245.3 203.6 246 C205.3 246.6 206 247.3 208.3 247.5 C210.6 247.8 213.4 247.7 216.3 247.5 C219.1 247.3 221.3 246.6 224.2 246.4 C227 246.2 229.3 246.3 232.1 246.4 C235 246.6 237.2 246.9 240.1 247.2 C242.9 247.5 246.3 247.5 248 248 C249.7 248.5 248.3 249.1 249.7 249.9 C251.1 250.7 254 252.6 255.8 252.5 C257.6 252.4 258 251.3 259.9 249.5 C261.7 247.6 263.8 244.1 266 242.4 C268.1 240.6 270.2 239.9 272 239.7 C273.9 239.5 274.3 240 276.1 241.4 C277.9 242.7 279.6 245.1 282.2 247.4 C284.7 249.8 287.4 252 290.3 254.5 C293.2 257.1 295.8 259.3 298.4 261.6 C300.9 264 302.2 264.7 304.5 267.7 C306.8 270.7 308.9 276.7 311.3 278.2 C313.6 279.7 315 277.1 317.6 276 C320.2 274.8 323 273.1 325.5 271.8 C328.1 270.5 329.6 270 331.9 268.7 C334.2 267.3 336.8 266 338.2 264.4 C339.7 262.7 338.8 261.1 340 259.5 C341.2 257.9 343 257.1 344.8 255.6 C346.5 254 347.8 252.4 349.5 250.8 C351.2 249.2 352.6 248.4 354.3 246.8 C356 245.3 357.3 243.5 359 242.1 C360.8 240.6 362.1 240 363.8 238.9 C365.5 237.7 366.9 236.9 368.6 235.7 C370.3 234.6 371.6 233.5 373.3 232.5 C375 231.5 376.4 230.9 378.1 230.2 C379.8 229.4 381.1 228.9 382.9 228.6 C384.6 228.3 385.9 228.9 387.6 228.6 C389.3 228.3 390.7 227.6 392.4 227 C394.1 226.4 395.1 225.4 397.1 225.1 C399.1 224.8 401.5 225.9 403.5 225.4 C405.5 224.9 406.5 223.4 408.3 222.2 C410 221.1 411.3 220 413 219 C414.7 218 416.1 217.2 417.8 216.7 C419.5 216.1 421.1 216.4 422.5 215.9 C424 215.3 424.6 214.3 425.7 213.5 C426.9 212.6 427.5 212.4 428.9 211.1 C430.3 209.8 431.8 208.9 433.7 206.3 C435.5 203.8 437.5 201 439.3 197.2 C441.1 193.3 442.3 190.3 443.6 184.9 C444.9 179.6 445.5 173.4 446.6 167.3 C447.7 161.2 448.6 157.3 449.7 151.1 C450.8 144.9 451.6 138.3 452.7 132.8 C453.8 127.4 454.3 123.8 455.7 120.7 C457.2 117.6 458.8 116.6 460.8 115.6 C462.8 114.6 464.3 114.6 466.9 115 C469.5 115.4 472.5 118.1 475 117.6 C477.6 117.2 478.9 114.4 481.1 112.6 C483.3 110.7 485.3 108.4 487.2 107.5 C489 106.6 489.8 107.3 491.2 107.5 C492.7 107.7 493.6 108.2 495.3 108.5 C496.9 108.9 498.9 108.6 500.3 109.5 C501.8 110.4 502.3 111.4 503.4 113.6 C504.5 115.8 505.5 119 506.4 121.7 C507.3 124.4 507.2 127.3 508.5 128.8 C509.7 130.2 511.5 129.6 513.5 129.8 C515.5 130 517.6 129.6 519.6 129.8 C521.6 130 522.8 130.7 524.7 130.8 C526.5 130.9 527.9 129.9 529.7 130.4 C531.6 131 533.2 131.6 534.8 133.9 C536.4 136.1 537.4 139.5 538.9 143 C540.3 146.4 541.5 150.6 542.9 153.1 C544.4 155.7 545.7 156.1 547 157.2 C548.2 158.3 548.1 158.4 550 159.2 C551.9 160 554.8 161.3 557.6 161.4 C560.4 161.6 562.8 160.5 565.7 160 C568.6 159.5 570.9 158.5 573.8 158.4 C576.7 158.3 579.7 159.3 581.9 159.4 C584.1 159.4 584.2 159.3 586.1 158.7 C587.9 158 590 156.9 592.2 155.6 C594.4 154.3 595.9 153 598.2 151.6 C600.6 150.1 603.5 149.2 605.3 147.6 C607.1 146.1 607.2 145.1 608.5 142.9 C609.7 140.7 610.8 137.4 612.2 135.5 C613.5 133.5 614.7 132.8 615.9 132 C617 131.2 617.6 131.6 618.5 131 C619.5 130.3 620.2 129.6 621.2 128.6 C622.1 127.6 622.9 126.4 623.8 125.4 C624.8 124.5 625.5 123.4 626.5 123.3 C627.4 123.2 628.1 125.1 629.1 124.9 C630.1 124.7 630.8 123.1 631.7 122.2 C632.7 121.4 633.4 120.8 634.4 120.1 C635.3 119.4 635.9 119.3 637 118.5 C638.2 117.7 638.7 115.8 640.8 115.7 C643 115.5 646 117.1 648.9 117.7 C651.8 118.3 654.5 119.5 657 119.1 C659.6 118.8 660.9 116.4 663.1 115.7 C665.3 114.9 667 114.8 669.2 115.1 C671.4 115.3 673.1 116.6 675.3 117.1 C677.5 117.6 679.4 117.9 681.4 117.7 C683.4 117.5 684.8 115.6 686.4 116.1 C688.1 116.5 688.8 118.1 690.5 120.1 C692.1 122.1 693.5 124.9 695.5 127.2 C697.6 129.6 699.4 131.1 701.6 133.3 C703.8 135.5 705.5 137.8 707.7 139.4 C709.9 141 711.6 140.6 713.8 142.4 C716 144.3 718 147.1 719.9 149.5 C721.7 152 722.2 153.4 724.1 156 C725.9 158.6 728.1 161.6 730.1 164.1 C732.1 166.7 733.4 169.2 735.2 170.2 C737 171.2 738.3 170 740.3 169.6 C742.3 169.2 743.8 168.4 746.4 168.2 C748.9 167.9 751.5 168 754.5 168.2 C757.4 168.4 760 168.3 762.6 169.2 C765.1 170.1 766.5 171.6 768.7 173.2 C770.8 174.9 772.7 176.3 774.7 178.3 C776.7 180.3 778.2 182 779.8 184.4 C781.4 186.8 782.6 189.7 783.9 191.5 C785.1 193.3 785.8 194.3 786.9 194.5 C788 194.7 788.5 193.1 789.9 192.5 C791.4 191.9 793 191.4 795 191.1 C797 190.7 798.9 190.9 801.1 190.5 C803.3 190 805 188.9 807.2 188.4 C809.4 188 810.7 187.8 813.2 187.8 C815.8 187.8 818.4 188.2 821.4 188.4 C824.3 188.7 826.9 188.4 829.5 189.5 C832 190.6 833.7 192.5 835.5 194.5 C837.4 196.5 838.1 198.1 839.6 200.6 C841.1 203.2 842.2 206.5 843.7 208.7 C845.1 210.9 846.6 211.7 847.7 212.8 C848.9 213.8 848.1 213.5 850 214.6 C851.9 215.7 855.2 219 858.1 218.7 C861 218.3 863.7 214.2 866.2 212.6 C868.8 210.9 869.7 210.1 872.3 209.5 C874.9 209 877.1 209.9 880.4 209.5 C883.7 209.2 887.3 207.3 890.5 207.5 C893.8 207.7 895.7 209.6 898.7 210.5 C901.6 211.5 903.8 212.2 906.8 212.6 C909.7 212.9 912 212.8 914.9 212.6 C917.8 212.4 920.1 211.9 923 211.6 C925.9 211.2 928.2 210.5 931.1 210.5 C934 210.5 936.6 211.7 939.2 211.6 C941.7 211.4 943.1 210.5 945.3 209.5 C947.5 208.5 950.3 206.7 951.4 206.1" stroke="#8282f6" stroke-width="1.05" fill="none" stroke-linejoin="round"/>
<path d="M54.3 311.2 C55.5 311.3 58.9 311.3 60.9 312 C63 312.7 64 313.7 65.7 315.2 C67.4 316.6 69 318.8 70.5 319.9 C71.9 321.1 72.2 321.7 73.6 321.5 C75.1 321.4 76.4 319.8 78.4 319.1 C80.4 318.4 82.2 318 84.7 317.5 C87.3 317.1 89.8 316.6 92.7 316.4 C95.5 316.3 97.8 316.5 100.6 316.7 C103.5 316.9 105.7 317.7 108.6 317.5 C111.4 317.4 114.2 317.1 116.5 316 C118.8 314.8 119.5 313.2 121.3 311.2 C123 309.2 124.3 306.3 126 304.8 C127.7 303.4 128.8 303.4 130.8 303.3 C132.8 303.1 135.1 303.6 137.1 304 C139.1 304.5 139.9 305.6 141.9 305.6 C143.9 305.6 146.2 304.5 148.2 304 C150.2 303.6 151 303.4 153 302.9 C155 302.5 156.3 302.8 159.1 301.5 C161.9 300.3 165.2 297.8 168.6 296 C172.1 294.1 175 293.2 178.2 291.2 C181.3 289.2 183 287.3 186.1 284.8 C189.2 282.4 192.8 280.3 195.6 277.7 C198.5 275.1 199.7 272.7 202 270.6 C204.3 268.4 205.7 266.7 208.3 265.8 C210.9 264.9 213.4 265.5 216.3 265.5 C219.1 265.5 221 265.3 224.2 265.8 C227.3 266.3 230.3 267 233.7 268.2 C237.1 269.3 240.7 271 243.2 272.1 C245.8 273.3 245.7 274.1 248 274.5 C250.3 274.9 253.7 272.7 255.8 274.4 C258 276.1 258 279.3 259.9 283.9 C261.7 288.6 263.8 295.6 266 300.1 C268.1 304.7 270.2 307.1 272 309.3 C273.9 311.4 273.5 311.2 276.1 311.9 C278.6 312.6 282.6 313 286.2 313.3 C289.9 313.7 293.4 313.7 296.4 313.9 C299.3 314.2 300.3 315.4 302.4 314.7 C304.6 314.1 306.7 311.8 308.5 310.3 C310.3 308.7 311.1 306.7 312.6 306.2 C314 305.8 314.8 308.2 316.6 307.8 C318.5 307.5 320.5 305.6 322.7 304.2 C324.9 302.8 326.2 301.1 328.8 300.1 C331.3 299.2 334 299.5 336.9 299.1 C339.8 298.8 340.7 299.8 345 298.1 C349.3 296.5 356.7 292.2 360.6 290 C364.6 287.8 364.7 287.3 367 285.7 C369.3 284.1 371 283 373.3 281 C375.6 279 377.4 276.9 379.7 274.6 C382 272.3 383.7 270.7 386 268.3 C388.3 265.8 390.1 263.4 392.4 261.1 C394.7 258.8 396.4 257.3 398.7 255.6 C401 253.8 402.8 252.4 405.1 251.6 C407.4 250.7 409.1 251.4 411.4 250.8 C413.7 250.2 415.8 249.3 417.8 248.4 C419.8 247.6 420.5 246.6 422.5 246 C424.5 245.5 426.6 245.5 428.9 245.2 C431.2 245 433.5 245 435.2 244.8 C437 244.5 437.6 243.3 438.4 243.7 C439.3 244 439.1 245 440 246.8 C440.9 248.7 442 251.7 443.4 253.9 C444.7 256.1 445.6 255.9 447.4 259 C449.3 262.1 451.7 269.5 453.5 271.2 C455.3 272.8 455.8 269.9 457.6 268.1 C459.4 266.3 461.5 263.6 463.7 261 C465.8 258.5 468 256.8 469.7 253.9 C471.5 251 471.5 248.6 473.4 244.9 C475.4 241.2 478.2 237.7 480.5 233.4 C482.9 229.1 484.4 225.1 486.6 221.2 C488.8 217.4 490.5 213.9 492.7 212.1 C494.9 210.3 496.8 210.7 498.8 211.1 C500.8 211.5 502.2 214.1 503.9 214.1 C505.5 214.1 506.3 210.5 507.9 211.1 C509.6 211.6 511 215.2 513 217.2 C515 219.2 516.9 222.6 519.1 222.2 C521.2 221.9 523 216.8 525.1 215.1 C527.3 213.5 529 213.8 531.2 213.1 C533.4 212.4 535.5 212 537.3 211.1 C539.1 210.2 539.9 209 541.4 208 C542.8 207.1 543.2 206.3 545.4 206 C547.6 205.8 550.6 206.8 553.5 206.6 C556.4 206.4 558.7 206 561.6 205 C564.5 204 567.2 201.9 569.7 201 C572.3 200 574 200.3 575.8 199.9 C577.7 199.6 578.9 199.4 580 199.2 C581.1 199 580.4 198.9 581.9 198.9 C583.4 198.9 585.9 199 588.1 199.2 C590.3 199.4 592 200.5 594.2 200.2 C596.4 199.9 598.1 198.7 600.3 197.6 C602.5 196.5 604.2 194.4 606.4 194.1 C608.5 193.9 610.2 196 612.4 196.2 C614.6 196.3 616.3 195.4 618.5 195.1 C620.7 194.9 622.8 195.8 624.6 194.7 C626.4 193.6 627 191.9 628.7 189.1 C630.3 186.2 631.7 182 633.7 178.9 C635.7 175.8 637.8 174.4 639.8 171.8 C641.8 169.3 642.9 166.6 644.9 164.7 C646.9 162.9 648.8 161.7 651 161.7 C653.1 161.7 654.8 163.1 657 164.7 C659.2 166.4 660.9 169.5 663.1 170.8 C665.3 172.1 667 171.1 669.2 171.8 C671.4 172.6 673.1 173.4 675.3 174.9 C677.5 176.3 679.5 177.2 681.4 179.9 C683.2 182.7 683.6 186.4 685.4 190.1 C687.2 193.7 689.3 197.1 691.5 200.2 C693.7 203.3 696 204.8 697.6 207.3 C699.1 209.8 698.7 212.9 700 214.3 C701.3 215.7 703 214.7 704.8 215.1 C706.5 215.5 707.8 216.1 709.5 216.7 C711.2 217.2 712.6 217.8 714.3 218.3 C716 218.7 717.3 219.3 719 219 C720.8 218.8 722.1 217.8 723.8 216.7 C725.5 215.5 726.7 213.8 728.6 212.7 C730.4 211.6 732.4 210.5 734.1 210.3 C735.8 210.2 736.8 210.5 738.1 211.9 C739.4 213.3 739.8 215.7 741.3 218.3 C742.8 220.8 744.3 224.4 746.4 226 C748.4 227.5 750.2 226.4 752.4 227 C754.6 227.5 756.3 227.5 758.5 229 C760.7 230.5 762.4 233.2 764.6 235.1 C766.8 236.9 768.5 238.6 770.7 239.1 C772.9 239.7 774.6 239.2 776.8 238.1 C778.9 237 780.7 234.1 782.8 233 C785 232 786.7 232 788.9 232 C791.1 232 792.8 232.5 795 233 C797.2 233.6 798.9 233.4 801.1 235.1 C803.3 236.7 805 240.2 807.2 242.2 C809.4 244.2 811.1 245.3 813.2 246.2 C815.4 247.1 817.1 246.7 819.3 247.2 C821.5 247.8 823.2 248.5 825.4 249.3 C827.6 250 829.3 250.6 831.5 251.3 C833.7 252 835.4 252.8 837.6 253.3 C839.8 253.9 841.8 254 843.7 254.3 C845.5 254.6 846.6 254.6 847.7 254.9 C848.9 255.3 848.1 255.8 850 256.2 C851.9 256.6 855.2 256.6 858.1 257.2 C861 257.7 863.3 258.8 866.2 259.2 C869.1 259.6 871.4 259.2 874.3 259.2 C877.2 259.2 879.5 259.4 882.4 259.2 C885.4 259 888 259.3 890.5 258.2 C893.1 257.1 894.4 255.5 896.6 253.1 C898.8 250.7 900.5 247.4 902.7 245 C904.9 242.6 906.6 241.2 908.8 239.9 C911 238.7 912.3 238.3 914.9 237.9 C917.4 237.5 920.1 237.7 923 237.9 C925.9 238.1 928.5 239.1 931.1 238.9 C933.6 238.7 935 237.4 937.2 236.9 C939.4 236.3 941.4 235.7 943.2 235.9 C945.1 236.1 945.8 237 947.3 237.9 C948.8 238.8 950.6 240.4 951.4 241" stroke="#8282f6" stroke-width="1.05" fill="none" stroke-linejoin="round"/>
<path d="M54.3 296.1 C55.8 296.3 59.6 296.3 62.5 296.9 C65.4 297.5 67.9 298.3 70.5 299.3 C73 300.3 74.2 301.7 76.8 302.5 C79.4 303.2 81.9 303.2 84.7 303.3 C87.6 303.3 89.8 303.2 92.7 302.9 C95.5 302.7 97.5 302 100.6 301.7 C103.8 301.3 107.3 301.4 110.1 300.9 C113 300.3 113.9 299.5 116.5 298.5 C119.1 297.5 121.6 296.6 124.4 295.3 C127.3 294 129.2 292.6 132.4 291.3 C135.5 290.1 138.2 289.2 141.9 288.2 C145.6 287.1 150.5 286.5 153 285.5 C155.5 284.4 154 284 155.9 282.5 C157.9 280.9 161 278.9 163.9 276.9 C166.7 274.9 169 273.3 171.8 271.3 C174.7 269.3 176.9 267.5 179.7 265.8 C182.6 264.1 184.8 263.1 187.7 261.8 C190.5 260.5 193 259.5 195.6 258.7 C198.2 257.8 199.1 257.6 202 257.1 C204.8 256.5 208.3 255.8 211.5 255.5 C214.6 255.2 216.6 255.4 219.4 255.5 C222.3 255.6 224.5 255.7 227.4 256 C230.2 256.2 232.4 256.7 235.3 257.1 C238.2 257.5 241 257.8 243.2 258.2 C245.5 258.5 245.7 258.1 248 259.1 C250.3 260.1 252.9 261.8 255.8 263.7 C258.7 265.5 261 267.1 263.9 269.3 C266.8 271.5 269.1 273.7 272 275.8 C275 277.9 277.2 279.4 280.1 280.9 C283.1 282.3 285.3 282.8 288.2 283.9 C291.2 285 293.4 285.8 296.4 287 C299.3 288.1 301.9 289.5 304.5 290.4 C307 291.3 308.4 292 310.5 292 C312.7 292 314.1 291.3 316.6 290.4 C319.2 289.5 321.8 288.2 324.7 287 C327.7 285.7 330.1 284.7 332.8 283.5 C335.6 282.3 337.3 281.5 340 280.2 C342.7 278.8 345.1 277.6 347.9 275.9 C350.8 274.2 353 272.6 355.9 270.6 C358.7 268.7 361 267.1 363.8 265.1 C366.7 263.1 368.9 261.5 371.7 259.5 C374.6 257.5 376.8 256 379.7 254 C382.5 252 384.8 250.3 387.6 248.4 C390.5 246.6 392.7 245.2 395.6 243.7 C398.4 242.1 400.6 241.1 403.5 239.7 C406.3 238.3 408.6 237.1 411.4 235.7 C414.3 234.3 416.5 233.2 419.4 231.7 C422.2 230.3 424.4 229.2 427.3 227.8 C430.2 226.3 433 225 435.2 223.8 C437.5 222.6 438 223.2 440 221 C442 218.7 443.9 215.1 446.1 211.1 C448.3 207.1 450 202.6 452.2 198.9 C454.4 195.3 456.1 193.2 458.2 190.8 C460.4 188.4 462.1 187.1 464.3 185.7 C466.5 184.4 468.2 184.4 470.4 183.1 C472.6 181.8 474.3 180.7 476.5 178.7 C478.7 176.6 480.4 174.3 482.6 171.6 C484.8 168.8 486.6 165.5 488.7 163.4 C490.7 161.4 491.9 160.8 493.7 160.4 C495.5 160 496.8 160.1 498.8 161.4 C500.8 162.7 502.7 165.5 504.9 167.5 C507.1 169.5 508.6 171 511 172.6 C513.3 174.1 516.4 175.6 518 176.2 C519.7 176.8 518.5 176.8 520 176 C521.5 175.3 524.1 172.5 526.3 172.1 C528.6 171.6 530.4 172.4 532.7 173.7 C535 174.9 536.8 177.6 539 179.2 C541.3 180.8 543.1 181.7 545.4 182.4 C547.7 183.1 549.2 183.2 551.7 183.2 C554.3 183.2 556.8 182.8 559.7 182.4 C562.5 182 564.8 181.2 567.6 180.8 C570.5 180.4 572.7 180.3 575.6 180 C578.4 179.7 580.6 179.6 583.5 179.2 C586.3 178.8 588.6 178.5 591.4 177.6 C594.3 176.8 596.5 175.9 599.4 174.4 C602.2 173 604.4 171.5 607.3 169.7 C610.2 167.8 613.3 165.3 615.2 164.1 C617.2 162.9 616 164.2 617.9 162.9 C619.9 161.7 623 159.7 625.9 157.4 C628.7 155.1 631 152.7 633.8 150.2 C636.7 147.8 638.9 145.6 641.7 143.9 C644.6 142.2 646.8 141.4 649.7 140.7 C652.5 140.1 655.2 139.9 657.6 140.2 C660 140.5 661 141.7 663.1 142.4 C665.2 143.2 667 143.7 669.2 144.5 C671.4 145.2 673.1 145.6 675.3 146.5 C677.5 147.4 679.2 147.9 681.4 149.5 C683.5 151.2 685.3 153.2 687.4 155.6 C689.6 158 691.3 160.2 693.5 162.7 C695.7 165.3 697.4 167.4 699.6 169.8 C701.8 172.2 703.5 174.1 705.7 175.9 C707.9 177.7 709.6 178.7 711.8 179.9 C714 181.2 716.4 181.8 717.8 183 C719.3 184.1 718.5 185.8 720 186.4 C721.5 187 723.9 186.2 726.1 186.4 C728.3 186.6 730 186.7 732.2 187.4 C734.4 188.2 736.1 189 738.2 190.5 C740.4 191.9 742.1 194.1 744.3 195.5 C746.5 197 748.2 198 750.4 198.6 C752.6 199.1 754.3 198 756.5 198.6 C758.7 199.1 760.4 200.3 762.6 201.6 C764.8 202.9 766.5 204.4 768.7 205.7 C770.8 207 772.5 207.6 774.7 208.7 C776.9 209.8 778.6 210.8 780.8 211.8 C783 212.7 784.7 213.8 786.9 213.8 C789.1 213.8 790.4 211.9 793 211.8 C795.5 211.6 798.5 212 801.1 212.8 C803.6 213.5 805 214.7 807.2 215.8 C809.4 216.9 811.1 218.3 813.2 218.9 C815.4 219.4 817.1 218.7 819.3 218.9 C821.5 219 823.2 219.1 825.4 219.9 C827.6 220.6 829.3 221.6 831.5 222.9 C833.7 224.2 835.4 225.5 837.6 227 C839.8 228.4 841.8 229.8 843.7 231 C845.5 232.2 846.6 233 847.7 233.7 C848.9 234.3 848.5 234.3 850 234.9 C851.5 235.5 853.9 236.7 856.1 236.9 C858.3 237.1 859.6 236.6 862.2 235.9 C864.7 235.2 867.4 233.6 870.3 232.8 C873.2 232.1 875.5 231.8 878.4 231.8 C881.3 231.8 883.6 233 886.5 232.8 C889.4 232.7 891.7 231.7 894.6 230.8 C897.5 229.9 899.8 228.7 902.7 227.8 C905.6 226.9 907.9 226.3 910.8 225.7 C913.7 225.2 916 225.1 918.9 224.7 C921.8 224.4 924.1 224.2 927 223.7 C930 223.3 932.2 222.5 935.1 222.3 C938.1 222.1 940.3 222.3 943.2 222.7 C946.2 223.1 949.9 224.4 951.4 224.7" stroke="#e8676b" stroke-width="1" fill="none" stroke-linejoin="round" opacity="0.9"/>
<path d="M54.6 298.5 C56 299.6 60 303.3 62.5 304.8 C65.1 306.4 67 306.6 68.9 307.2 C70.7 307.9 71.1 308.4 72.8 308.3 C74.6 308.2 76.3 307.4 78.4 306.7 C80.5 306.1 82.2 305.8 84.7 304.8 C87.3 303.9 90.1 302.6 92.7 301.7 C95.3 300.8 96.7 300.3 99 299.8 C101.3 299.2 103.1 299 105.4 298.5 C107.7 298 109.7 297.5 111.7 296.9 C113.7 296.3 114.5 295.9 116.5 295 C118.5 294.1 120.6 292.9 122.8 291.8 C125.1 290.7 126.9 290.1 129.2 289 C131.5 287.8 133.3 286.8 135.5 285.5 C137.8 284.2 139.6 283 141.9 281.8 C144.2 280.7 146.2 280.1 148.2 279.1 C150.2 278.2 151.6 277.6 153 276.6 C154.4 275.6 154 275.2 155.9 273.7 C157.9 272.2 161 270 163.9 268.2 C166.7 266.3 169 265 171.8 263.4 C174.7 261.8 176.9 260.7 179.7 259.4 C182.6 258.2 184.8 257.3 187.7 256.3 C190.5 255.3 193 254.5 195.6 253.9 C198.2 253.3 199.7 253.2 202 253.1 C204.3 253 206 253.3 208.3 253.6 C210.6 253.9 212.1 254.1 214.7 254.7 C217.2 255.3 219.7 256.1 222.6 257.1 C225.5 258 227.7 259 230.5 259.9 C233.4 260.8 235.3 261.3 238.5 262.1 C241.6 263 245.2 264.3 248 264.5 C250.8 264.8 251.7 262.7 253.8 263.7 C255.9 264.6 257.7 266.8 259.9 269.7 C262.1 272.7 263.8 276.8 266 279.9 C268.1 283 269.8 284.8 272 287 C274.2 289.2 275.9 290.6 278.1 292 C280.3 293.4 281.6 294.3 284.2 294.7 C286.7 295 289.4 294.4 292.3 294.1 C295.2 293.8 297.9 293.1 300.4 293 C303 293 304.3 294.2 306.5 293.7 C308.7 293.1 310.4 291.4 312.6 290 C314.8 288.6 316.5 287.2 318.7 286 C320.8 284.7 322.2 284.6 324.7 282.9 C327.3 281.3 330.1 278.8 332.8 276.8 C335.6 274.9 337.9 273.3 340 272.2 C342.1 271.1 343 271.5 344.8 270.6 C346.5 269.8 347.8 268.9 349.5 267.5 C351.2 266 352.6 264.4 354.3 262.7 C356 261 357.3 259.5 359 257.9 C360.8 256.4 362.1 255.3 363.8 254 C365.5 252.7 366.9 251.9 368.6 250.8 C370.3 249.7 371.6 248.8 373.3 247.6 C375 246.5 376.4 245.4 378.1 244.4 C379.8 243.4 381.1 242.8 382.9 242.1 C384.6 241.3 385.9 241.3 387.6 240.5 C389.3 239.6 390.7 238.3 392.4 237.3 C394.1 236.3 395.1 235.8 397.1 234.9 C399.1 234.1 401.5 233.4 403.5 232.5 C405.5 231.7 406.5 230.9 408.3 230.2 C410 229.4 411.3 229.3 413 228.6 C414.7 227.9 416.1 227 417.8 226.2 C419.5 225.3 420.8 224.8 422.5 223.8 C424.3 222.8 425.6 221.6 427.3 220.6 C429 219.6 430.3 219.1 432.1 218.3 C433.8 217.4 435.4 216.7 436.8 215.9 C438.3 215 438.3 218 440 213.5 C441.7 209 443.9 198.5 446.1 190.8 C448.3 183.1 450 176.2 452.2 170.5 C454.4 164.9 456.1 162.1 458.2 159.4 C460.4 156.7 462.1 155 464.3 155.3 C466.5 155.7 468.4 158.9 470.4 161.4 C472.4 164 473.7 166.8 475.5 169.5 C477.3 172.3 478.5 176.4 480.5 176.6 C482.6 176.8 484.4 172.7 486.6 170.5 C488.8 168.4 490.5 166.3 492.7 164.5 C494.9 162.6 496.6 160.6 498.8 160.4 C501 160.2 502.7 161.3 504.9 163.4 C507.1 165.6 508.8 169.1 511 172.6 C513.1 176 515.4 179.8 517 182.7 C518.7 185.6 518.6 187.4 520 188.7 C521.4 190.1 523 190.7 524.8 190.3 C526.5 189.9 527.5 187.6 529.5 186.3 C531.5 185.1 533.6 184.6 535.9 183.2 C538.2 181.7 539.9 179.6 542.2 178.4 C544.5 177.3 546.3 176.5 548.6 176.8 C550.9 177.1 552.6 179.1 554.9 180 C557.2 180.9 559 181.6 561.3 181.6 C563.6 181.6 565.3 180.7 567.6 180 C569.9 179.3 571.7 178 574 177.6 C576.3 177.2 578 178 580.3 177.6 C582.6 177.2 584.4 176.1 586.7 175.2 C589 174.4 590.7 174.3 593 172.9 C595.3 171.4 597.1 169.4 599.4 167.3 C601.7 165.2 603.4 163 605.7 161 C608 159 610.1 157.7 612.1 156.2 C614 154.7 614.4 154.3 616.3 152.6 C618.3 151 620.4 149.2 622.7 147.1 C625 144.9 626.8 142.7 629 140.7 C631.3 138.7 633.1 137.3 635.4 136 C637.7 134.6 639.5 133.8 641.7 133.3 C644 132.7 646.1 132.3 648.1 132.8 C650.1 133.3 651.1 134.5 652.9 136 C654.6 137.4 655.9 138.9 657.6 140.7 C659.3 142.6 660.7 144.4 662.4 146.3 C664.1 148.1 665.1 149.5 667.1 151 C669.1 152.6 671.2 153.4 673.5 155 C675.8 156.6 677.6 157.8 679.8 159.8 C682.1 161.8 683.9 163.7 686.2 166.1 C688.5 168.5 690.3 170.5 692.5 173.3 C694.8 176 696.6 178.2 698.9 181.2 C701.2 184.2 703.7 187.8 705.2 189.9 C706.8 192.1 706.5 192.7 707.7 193.1 C708.9 193.5 710.3 192.6 711.8 192.1 C713.2 191.6 714.3 190.5 715.8 190.1 C717.3 189.6 718.2 190.3 720 189.5 C721.8 188.6 723.9 186.3 726.1 185.4 C728.3 184.5 730 183.7 732.2 184.4 C734.4 185.1 736.1 187.3 738.2 189.5 C740.4 191.7 742.1 193.8 744.3 196.6 C746.5 199.3 748.2 202.3 750.4 204.7 C752.6 207 754.3 208.3 756.5 209.7 C758.7 211.2 760.4 211.1 762.6 212.8 C764.8 214.4 766.5 218.3 768.7 218.9 C770.8 219.4 772.5 216.7 774.7 215.8 C776.9 214.9 778.6 214.9 780.8 213.8 C783 212.7 784.7 211 786.9 209.7 C789.1 208.5 790.8 207.1 793 206.7 C795.2 206.3 796.9 206.4 799.1 207.7 C801.2 209 803 211.6 805.1 213.8 C807.3 216 809 218 811.2 219.9 C813.4 221.7 815.1 222.6 817.3 223.9 C819.5 225.2 821.2 225.7 823.4 227 C825.6 228.2 827.3 230.1 829.5 231 C831.7 231.9 833.4 231.1 835.5 232 C837.7 232.9 839.4 234.6 841.6 236.1 C843.8 237.5 846.2 238.9 847.7 240.1 C849.2 241.4 848.5 242.6 850 243 C851.5 243.3 853.9 242.7 856.1 242 C858.3 241.2 860 240.6 862.2 238.9 C864.4 237.3 866.1 235 868.2 232.8 C870.4 230.7 872.1 228.4 874.3 226.8 C876.5 225.1 878.2 224.3 880.4 223.7 C882.6 223.2 884.3 223.2 886.5 223.7 C888.7 224.3 890.4 225.8 892.6 226.8 C894.8 227.7 896.5 228.6 898.7 228.8 C900.8 229 902.5 228.5 904.7 227.8 C906.9 227 908.6 226 910.8 224.7 C913 223.5 914.7 221.6 916.9 220.7 C919.1 219.8 920.4 219.8 923 219.7 C925.5 219.5 928.5 219.5 931.1 219.7 C933.6 219.8 935 220.3 937.2 220.7 C939.4 221 941.4 221 943.2 221.7 C945.1 222.4 945.8 223.3 947.3 224.7 C948.8 226.2 950.6 228.9 951.4 229.8" stroke="#40c4d8" stroke-width="1.0" fill="none" stroke-linejoin="round"/>
<path d="M54.6 297.7V300.9M57.3 299.3V304M60 303.3V310.4M62.7 304V308M65.4 304V314.4M68.1 312.8V319.1M70.8 316V320.7M81.6 296.9V302.5M89.7 291.3V298.5M92.4 297.7V303.3M97.8 292.1V296.1M100.5 295.3V299.3M103.2 296.1V300.9M108.6 292.9V301.7M124.8 285V286.6M127.5 285.8V292.9M143.7 267.2V277.1M146.4 275.5V277.9M149.1 274.7V282.6M159.9 258.7V268.2M170.7 256V261M181.5 249.1V257.1M189.6 249.9V259.4M200.4 249.9V257.1M205.8 254.7V261.8M211.2 252.3V257.9M213.9 257.1V267.4M216.6 254.7V269.8M227.4 251.2V263.4M230.1 260.2V265M232.8 261V265.8M240.9 263.4V271.3M246.3 266V277.1M257.1 261.2V264.4M259.8 264.4V296.9M262.5 280.2V295.3M265.2 288.2V313.6M267.9 302.5V310.4M273.3 303.3V305.6M284.1 283.4V290.6M289.5 281.8V289.8M292.2 289V296.1M300.3 288.2V294.5M303 294.5V306.4M313.8 281V284.2M324.6 269.9V275.5M327.3 271.5V277.9M340.8 261V266.1M343.5 263V269.1M351.6 252.9V259M362.4 239.7V245.8M365.1 241.8V246.8M367.8 242.8V250.9M370.5 240.7V253.9M384 232.6V243.8M386.7 236.7V244.8M400.2 226.6V236.7M405.6 229.6V234.7M413.7 215.4V228.6M416.4 216.4V234.7M419.1 226.6V229.2M427.2 204.3V218.4M435.3 196.1V216.4M438 199.2V214.4M446.1 136.4V170.8M456.9 96.7V170.8M459.6 141.7V174.8M465 161.6V184M467.7 184V209.2M470.4 207.9V213.1M481.2 139.1V160.2M486.6 124.5V145.7M492 140.1V173.6M500.1 160.4V188.8M502.8 168.5V184.7M508.2 170.5V189.8M510.9 174.6V203M513.6 197.9V209.1M519 192.8V212.1M532.5 153.3V169.5M535.2 155.3V181.7M537.9 171.6V188.8M543.3 183.7V184.7M546 183.7V206M551.4 182.7V192.8M562.2 175.6V188.8M573 159.4V188.8M575.7 185.7V198.9M589.2 150.5V173.9M591.9 160.7V175.9M616.2 141.4V152.6M618.9 141.4V150.5M627 131.3V141.4M635.1 122.2V127.2M637.8 122.2V136.4M643.2 118.1V140.4M645.9 132.3V143.4M651.3 132.3V163.7M659.4 154.6V179.9M662.1 167.8V175.9M672.9 134.3V150.5M675.6 147.5V175.9M683.7 153.6V200.2M686.4 188V208.3M694.5 177.9V190.1M697.2 182V207.3M702.6 202.2V222.5M713.4 179.9V187M716.1 181V198.2M718.8 185V197.2M732.3 175.3V191.5M735 190.5V207.7M737.7 194.5V208.7M740.4 194.5V213.8M743.1 212.8V227M759.3 202.6V210.7M762 210.7V227M764.7 217.8V231M772.8 209.7V222.9M783.6 194.5V206.7M791.7 185.4V211.8M794.4 202.6V222.9M797.1 227V232M805.2 217.8V228M807.9 227V245.2M818.7 221.9V233M824.1 220.9V237.1M832.2 227V235.1M834.9 224.9V238.1M840.3 235.1V251.3M843 247.2V258.4M851.1 239.9V248M853.8 241V253.1M870 207.1V222.7M872.7 217.6V226.8M875.4 222.7V231.8M880.8 219.7V232.8M883.5 226.8V233.9M886.2 230.8V241M897 222.7V239.9M899.7 229.8V238.9M907.8 220.7V223.7M910.5 222.7V231.8M918.6 217.6V223.7M926.7 209.5V220.7M929.4 219.7V229.8M937.5 213.6V228.8M942.9 222.7V230.8M945.6 227.8V237.9M948.3 233.9V251.1M951 245V248" stroke="#ef5350" stroke-width="1" fill="none"/>
<path d="M73.5 308V322.3M76.2 300.1V308.8M78.9 295.3V300.1M84.3 295.3V299.3M87 292.1V296.1M95.1 291.3V301.7M105.9 294.5V298.5M111.3 294.5V301.7M114 291.3V294.5M116.7 289V292.9M119.4 283.4V292.1M122.1 283.4V289.8M130.2 286.6V292.9M132.9 284.2V288.2M135.6 279.4V284.2M138.3 277.1V280.2M141 270.7V277.1M151.8 272.3V279.4M154.5 263.4V275.3M157.2 259.4V266.6M162.6 262.6V273.7M165.3 259.4V263.4M168 255.5V261M173.4 257.9V263.4M176.1 253.9V258.7M178.8 253.1V256.3M184.2 252.3V259.4M186.9 250.7V253.9M192.3 252.3V258.7M195 247.5V253.1M197.7 249.1V253.1M203.1 255.5V262.6M208.5 254.7V261M219.3 261V269.8M222 257.9V261.8M224.7 252.3V259.4M235.5 262.6V268.2M238.2 259.4V263.4M243.6 266.7V273.1M249 272.3V278.7M251.7 261.2V273.1M254.4 259.6V264.4M270.6 302.5V318.8M276 291.3V303.3M278.7 283.4V291.3M281.4 283.9V289.8M286.8 285.8V291.3M294.9 289V295.3M297.6 285V289.8M305.7 289.8V300.1M308.4 285V290.6M311.1 281V285.8M316.5 273.9V285M319.2 272.3V277.1M321.9 269.1V276.3M330 273.9V280.2M332.7 269.1V274.7M335.4 266V272.3M338.1 260.4V269.1M346.2 256V267.1M348.9 252.9V258M354.3 247.8V254.9M357 248.5V250.3M359.7 241.8V249.9M373.2 242.8V247.8M375.9 235.7V244.8M378.6 233.7V240.7M381.3 231.6V238.7M389.4 233.7V242.8M392.1 232.6V243.8M394.8 225.5V235.7M397.5 223.5V229.6M402.9 230.6V236.7M408.3 219.5V235.7M411 213.4V228.6M421.8 222.5V236.7M424.5 211.4V228.6M429.9 207.3V216.4M432.6 184V211.4M440.7 178.8V209.2M443.4 153.6V178.8M448.8 140.4V169.5M451.5 75.1V140.4M454.2 91.5V131.1M462.3 160.2V184M473.1 178.8V210.5M475.8 177.4V189.3M478.5 145.7V178.8M483.9 129.8V148.3M489.3 133V152.3M494.7 153.3V187.8M497.4 153.3V167.5M505.5 173.6V194.9M516.3 195.9V197.9M521.7 184.7V207M524.4 173.6V190.8M527.1 161.4V174.6M529.8 166.1V167.1M540.6 170.5V182.7M548.7 181.7V199.9M554.1 177.6V193.9M556.8 182.3V183.1M559.5 175.6V193.9M564.9 168.5V184.7M567.6 156.4V173.6M570.3 156.4V171.6M578.4 175.6V199.9M581.1 174.9V190.1M583.8 168.4V169.2M586.5 155.6V175.9M594.6 156.6V184M597.3 158.7V166.8M600 155.6V164.7M602.7 154.6V161.7M605.4 149.5V160.7M608.1 141.4V155.6M610.8 136.4V147.5M613.5 128.2V140.4M621.6 142.4V161.7M624.3 131.3V149.5M629.7 133.3V140.4M632.4 121.1V134.3M640.5 123.2V140.4M648.6 135.3V151.6M654 155.6V164.7M656.7 149.5V160.7M664.8 160.7V171.8M667.5 149.5V166.8M670.2 141.4V151.6M678.3 160.7V175.9M681 156.6V168.8M689.1 184V208.3M691.8 178.9V190.1M699.9 199.2V209.3M705.3 195.1V209.3M708 182V205.3M710.7 177.9V185M721.5 185.4V197.6M724.2 178.3V187.4M726.9 173.2V185.4M729.6 173.2V181.4M745.8 214.8V227M748.5 214.8V224.9M751.2 208.7V219.9M753.9 208.7V224.9M756.6 202.6V212.8M767.4 221.9V232M770.1 211.8V227M775.5 213.8V230M778.2 201.6V214.8M780.9 195.5V203.7M786.3 200.6V209.7M789 184.4V201.6M799.8 218.9V229M802.5 213.8V224.9M810.6 238.1V246.2M813.3 226V240.1M816 219.9V234.1M821.4 217.8V231M826.8 229V234.1M829.5 228V241.2M837.6 228V238.1M845.7 247.2V257.4M848.4 239.1V256.4M856.5 237.9V248M859.2 228.8V242M861.9 222.7V231.8M864.6 218.7V227.8M867.3 207.5V220.7M878.1 220.7V232.8M888.9 226.8V238.9M891.6 220.7V232.8M894.3 223.7V231.8M902.4 222.7V235.9M905.1 218.7V227.8M913.2 217.6V229.8M915.9 215.6V223.7M921.3 206.5V221.7M924 204.5V219.7M932.1 219.7V230.8M934.8 213.6V226.8M940.2 217.6V231.8" stroke="#26a69a" stroke-width="1" fill="none"/>
<path d="M54.6 297.7V300.9M57.3 299.3V302.5M60 303.3V305.6M62.7 304.8V308M65.4 307.2V314.4M68.1 312.8V317.5M70.8 316V320.7M81.6 296.9V300.1M89.7 292.9V298.5M92.4 297.7V300.1M97.8 294.5V296.1M100.5 295.3V297.7M103.2 296.1V298.5M108.6 294.5V300.1M124.8 285V286.6M127.5 285.8V290.6M143.7 271.5V277.1M146.4 275.5V277.9M149.1 274.7V280.2M159.9 261V268.2M170.7 257.1V261M181.5 253.1V257.1M189.6 249.9V255.5M200.4 249.9V257.1M205.8 254.7V259.4M211.2 253.9V257.9M213.9 257.1V265.8M216.6 265V266.6M227.4 252.3V261.8M230.1 260.2V262.6M232.8 261V264.2M240.9 263.4V269.8M246.3 266V276.3M257.1 262.8V264.4M259.8 264.4V295.3M262.5 290.6V295.3M265.2 292.1V303.3M267.9 302.5V308M273.3 303.3V305.6M284.1 283.4V290.6M289.5 285V289.8M292.2 289V293.7M300.3 288.2V294.5M303 294.5V297.7M313.8 281V284.2M324.6 271.5V273.9M327.3 273.9V277.9M340.8 262V264.5M343.5 264.1V266.5M351.6 254.9V256.4M362.4 241.8V244.2M365.1 243.4V245.2M367.8 244.8V247.2M370.5 245.8V248.2M384 233.7V238.1M386.7 237.7V240.1M400.2 227.2V233M405.6 231.2V233M413.7 217.4V224.9M416.4 224.5V230M419.1 226.6V229.2M427.2 213.4V215.8M435.3 205.3V208.9M438 208.3V210.3M446.1 153.6V169.5M456.9 104.7V162.9M459.6 162.9V173.5M465 161.6V184M467.7 184V209.2M470.4 207.9V211.8M481.2 148.3V154.9M486.6 131.1V144.4M492 140.1V171.6M500.1 160.4V179.7M502.8 170V183.2M508.2 177.6V185.7M510.9 185.7V198.9M513.6 197.9V199.9M519 192.8V206M532.5 162.4V167.5M535.2 160.4V179.7M537.9 175.6V180.7M543.3 183.7V184.7M546 183.7V195.9M551.4 182.7V187.8M562.2 178.7V183.7M573 159.4V186.8M575.7 185.7V198.9M589.2 155.6V160.7M591.9 160.7V173.9M616.2 141.4V149.5M618.9 141.4V150.5M627 131.3V137.4M635.1 123.2V127.2M637.8 124.2V130.3M643.2 129.3V133.3M645.9 132.3V140.4M651.3 139.4V159.7M659.4 154.6V169.8M662.1 167.8V169.8M672.9 142.4V150.5M675.6 149.5V171.8M683.7 157.6V189.1M686.4 188V204.3M694.5 181V182M697.2 182V206.3M702.6 202.2V203.2M713.4 179.9V182M716.1 181V191.1M718.8 185V191.1M732.3 176.3V191.5M735 190.5V205.7M737.7 194.5V204.7M740.4 203.7V213.8M743.1 212.8V224.9M759.3 203.7V210.7M762 210.7V224.9M764.7 223.9V229M772.8 213.8V217.8M783.6 197.6V204.7M791.7 185.4V203.7M794.4 202.6V220.9M797.1 228V230M805.2 217.8V227M807.9 227V244.2M818.7 222.9V226M824.1 220.9V234.1M832.2 231V235.1M834.9 232V238.1M840.3 235.1V249.3M843 247.2V256.4M851.1 239.9V248M853.8 241V251.1M870 208.5V217.6M872.7 217.6V223.7M875.4 222.7V229.8M880.8 221.7V230.8M883.5 229.8V231.8M886.2 230.8V235.9M897 224.7V230.8M899.7 229.8V232.8M907.8 220.7V223.7M910.5 222.7V227.8M918.6 217.6V221.7M926.7 209.5V219.7M929.4 219.7V228.8M937.5 216.6V227.8M942.9 222.7V228.8M945.6 227.8V236.9M948.3 235.9V246M951 245V247" stroke="#ef5350" stroke-width="2.65" fill="none"/>
<path d="M73.5 308V321.5M76.2 300.1V308.8M78.9 296.1V300.1M84.3 295.3V299.3M87 292.9V296.1M95.1 292.9V299.3M105.9 295.3V298.5M111.3 294.5V300.1M114 292.1V294.5M116.7 290.6V292.9M119.4 284.2V290.6M122.1 283.4V285.8M130.2 286.6V290.6M132.9 284.2V288.2M135.6 279.4V284.2M138.3 277.1V280.2M141 271.5V277.1M151.8 273.1V279.4M154.5 265.8V272.9M157.2 261V266.6M162.6 262.6V269M165.3 259.4V263.4M168 257.1V261M173.4 257.9V261M176.1 255.5V258.7M178.8 253.1V256.3M184.2 252.3V257.9M186.9 250.7V253.9M192.3 252.3V255.5M195 249.1V253.1M197.7 249.1V250.7M203.1 255.5V258.7M208.5 254.7V257.9M219.3 261V266.6M222 257.9V261.8M224.7 252.3V259.4M235.5 262.6V265M238.2 261V263.4M243.6 266.7V273.1M249 272.3V275.5M251.7 262.8V273.1M254.4 262V264.4M270.6 302.5V308M276 291.3V303.3M278.7 283.4V291.3M281.4 283.9V285.8M286.8 285.8V291.3M294.9 289V293.7M297.6 287.4V289.8M305.7 289.8V297.7M308.4 285V290.6M311.1 281V285.8M316.5 273.9V283.4M319.2 272.3V274.7M321.9 271.2V273.1M330 273.9V278.7M332.7 269.1V274.7M335.4 266V269.9M338.1 262V269.1M346.2 257V265.1M348.9 254.9V257.6M354.3 249.9V254.9M357 248.5V250.3M359.7 243.8V248.9M373.2 243.8V247.4M375.9 238.7V243.8M378.6 236.7V239.3M381.3 233.7V237.3M389.4 238.1V240.1M392.1 235.7V238.7M394.8 228.6V235.7M397.5 226.6V229.2M402.9 231.6V233.7M408.3 222.5V232.6M411 217.4V223.1M421.8 225.5V229.6M424.5 213.4V225.5M429.9 211.4V215.8M432.6 205.3V211.4M440.7 178.8V209.2M443.4 153.6V178.8M448.8 140.4V169.5M451.5 120.6V124.5M454.2 104.7V121.9M462.3 161.6V173.5M473.1 178.8V210.5M475.8 177.4V180.1M478.5 147V178.8M483.9 131.1V148.3M489.3 138.1V143.2M494.7 164.5V172.6M497.4 159.4V164.5M505.5 177.6V188.8M516.3 195.9V196.9M521.7 186.8V207M524.4 174.6V188.8M527.1 166.5V174.6M529.8 166.1V167.1M540.6 175.6V180.7M548.7 183.7V194.9M554.1 178.7V187.8M556.8 182.3V183.3M559.5 178.7V183.7M564.9 169.5V184.7M567.6 165.5V169.5M570.3 160.4V167.5M578.4 178.7V199.9M581.1 174.9V178.9M583.8 168.4V169.4M586.5 158.7V167.8M594.6 164.7V173.9M597.3 161.7V164.7M600 157.6V161.7M602.7 157.6V159.7M605.4 154.6V158.7M608.1 145.5V155.6M610.8 138.4V145.5M613.5 130.3V140.4M621.6 142.4V150.5M624.3 132.3V143.4M629.7 133.3V136.4M632.4 123.2V134.3M640.5 129.3V132.3M648.6 139.4V140.4M654 155.6V159.7M656.7 154.6V156.6M664.8 160.7V170.8M667.5 150.5V161.7M670.2 142.4V151.6M678.3 164.7V171.8M681 157.6V164.7M689.1 189.1V204.3M691.8 179.9V190.1M699.9 204.3V206.3M705.3 195.1V204.3M708 184V201.2M710.7 178.9V185M721.5 185.4V192.5M724.2 179.3V187.4M726.9 177.3V185.4M729.6 176.3V181.4M745.8 216.8V224.9M748.5 214.8V221.9M751.2 212.8V215.8M753.9 209.7V213.8M756.6 203.7V212.8M767.4 221.9V228M770.1 213.8V227M775.5 213.8V217.8M778.2 202.6V214.8M780.9 196.6V203.7M786.3 200.6V204.7M789 185.4V201.6M799.8 219.9V229M802.5 218.9V224.9M810.6 238.1V244.2M813.3 230V240.1M816 222.9V230M821.4 220.9V226M826.8 231V234.1M829.5 230V233M837.6 231V238.1M845.7 247.2V256.4M848.4 239.1V251.3M856.5 241V248M859.2 229.8V242M861.9 223.7V231.8M864.6 219.7V224.7M867.3 208.5V220.7M878.1 220.7V229.8M888.9 227.8V234.9M891.6 224.7V228.8M894.3 224.7V228.8M902.4 222.7V231.8M905.1 220.7V223.7M913.2 220.7V227.8M915.9 217.6V223.7M921.3 207.5V221.7M924 210.5V213.6M932.1 225.7V228.8M934.8 216.6V226.8M940.2 223.7V227.8" stroke="#26a69a" stroke-width="2.65" fill="none"/>
</g>
<g clip-path="url(#p2)">
<rect x="53" y="444.4" width="904.5" height="70" fill="#f0e5f3"/>
<path d="M92.4 444.4V514.4M208.2 444.4V514.4M329.8 444.4V514.4M440.7 444.4V514.4M559.3 444.4V514.4M678.5 444.4V514.4M797.3 444.4V514.4M913 444.4V514.4M53 461.7H957M53 496H957" stroke="#e6daf0" stroke-width="1" fill="none" opacity="0.5"/>
<path d="M53 444.4H957.5M53 514.4H957.5" stroke="#6a6270" stroke-width="1" stroke-dasharray="4.6 5.305" fill="none"/>
<path d="M54.6 487 L58.1 493.1 L63.1 499.6 L68.2 507.3 L72.3 495.1 L74.3 483 L77.3 473.8 L80.4 472.8 L83.4 469.8 L86.4 466.3 L89.5 473.8 L91.9 477.9 L95.2 470.4 L98.6 472.8 L102.7 477.3 L105.7 471.8 L108.7 479.9 L111.8 471.8 L114.8 466.7 L117.5 464.3 L119.9 458.2 L122.9 457.6 L125 460.7 L127.6 468.4 L131 462.7 L134.1 455.6 L137.1 449.5 L140.6 443.4 L143.6 453.6 L146.2 452.5 L148.7 453.6 L151.3 450.5 L154.4 442.4 L157 436.3 L159.8 451.5 L162.5 445.4 L165.5 443.4 L168.5 441.4 L171.6 443.4 L174.6 441.4 L178.3 437.9 L181.1 444.4 L183.8 442.4 L186.4 438.4 L189.4 449.5 L192.5 444.4 L194.9 443.4 L197.3 443.4 L199.4 452.5 L200.6 461.7 L203 460.7 L205.5 467.7 L208.1 462.7 L210.5 466.7 L213.6 487 L216.2 489 L219.3 478.9 L221.9 470.8 L224.7 462.7 L227.4 477.9 L230 479.9 L232.8 483.4 L235.5 481.9 L238.1 481.3 L240.5 493.1 L243.2 488.6 L246.2 500.2 L249.1 490 L252.1 477.3 L254.7 476.9 L257.2 477.3 L259.8 512.3 L262.4 510.3 L264.9 516.4 L267.9 520.5 L270.5 512.3 L273 513.4 L276 494.1 L278.7 488 L281.5 485.4 L284.1 491.1 L286.8 486.6 L289.6 490 L292.2 493.1 L294.9 488.6 L297.3 487 L300.3 493.1 L303 496.1 L305.8 488 L308.5 479.9 L311.1 474.8 L313.5 477.9 L316.6 466.7 L319.2 465.1 L322 464.7 L324.7 466.7 L327.3 472.4 L330.1 466.7 L332.8 462.3 L335.4 461.7 L338.3 455 L340.9 455.6 L343.5 460.7 L346.4 450.5 L348 447.5 L349 447.5 L351.1 451.5 L354.1 444.4 L356.8 443.4 L359.6 438.4 L362.2 443.4 L365.3 446.1 L367.7 445.4 L370.3 450.1 L373 446.5 L375.8 441.4 L378.4 440 L381.5 437.9 L383.9 449.5 L386.6 450.1 L389.2 449.5 L392 442.4 L394.7 436.3 L397.3 435.9 L400.1 450.5 L402.8 448.9 L405.4 451.5 L408.2 437.9 L410.9 436.3 L413.5 453.6 L416.4 464.3 L419 460.7 L421.6 456.6 L424.5 444.8 L427.1 448.5 L429.7 445.4 L432.6 440.4 L435.2 446.5 L437.8 449.5 L440.7 429.2 L443.5 420.5 L446 438.4 L448.8 430.2 L451.4 424.2 L454.5 420.5 L456.5 462.7 L459.5 468.8 L462.2 465.1 L465 476.9 L467.6 486.6 L470.3 487.4 L473.1 473.8 L475.8 471.8 L478.4 461.7 L481.2 463.7 L483.9 457.6 L486.5 461.7 L488.9 461.1 L492 476.9 L495.1 474.4 L497.5 472.8 L500.1 480.9 L502.8 485 L505.6 480.5 L508.2 483.4 L510.9 488.6 L513.7 489.4 L516.4 488 L519 492.1 L521.8 481.9 L524.5 475.9 L527.1 470.8 L529.9 470.8 L532.6 469.4 L535.2 478.9 L538 479.9 L540.7 477.3 L543.3 483 L546.2 489 L548.8 483 L551.4 482.5 L554.3 477.9 L556.9 479.3 L559.5 477.3 L562.4 480.9 L565 470.8 L567.6 468.8 L570.5 465.7 L573.1 485 L575.7 492.7 L578.6 478.9 L581.2 477.9 L583.9 471.8 L586.7 466.7 L589.3 467.1 L592 475.9 L594.8 471.8 L597.4 468.8 L600.1 466.7 L602.9 465.7 L605.5 464.3 L608.2 458.2 L611 453.6 L613.7 449.1 L616.3 466.7 L619.1 468.4 L621.8 462.7 L624.4 457 L627.2 460.7 L629.9 458.2 L632.5 453.2 L635.3 456.2 L638 459.6 L640.7 459 L643.5 464.3 L646.1 471.8 L648.8 471.8 L651.6 490 L654.3 487 L656.9 486 L659.7 498.2 L662.4 498.8 L665 488 L667.8 477.9 L670.5 471.4 L673.1 479.9 L675.7 494.7 L678.6 488 L681.2 481.9 L683.9 500.2 L686.7 507.7 L689.3 497.1 L692 489.6 L694.8 491.1 L697.4 502.2 L700.1 501.2 L702.9 501.2 L705.5 498.2 L708.2 485 L711 481.5 L713.7 484 L716.3 489 L719.1 489 L721.8 486 L724.4 486.6 L727.2 478.9 L729.9 477.5 L732.5 489 L735.3 497.1 L738 498.2 L740.6 504.2 L743.5 510.3 L746.1 506.3 L748.7 499.6 L751.6 499.2 L754.2 496.7 L756.8 488.6 L759.7 493.1 L762.3 503.2 L764.9 505.7 L767.8 504.2 L770.4 490 L773 491.5 L775.9 488 L778.5 476.9 L781.6 471.8 L784.1 477.9 L786.7 474.8 L789.3 463.7 L791.8 480.9 L794.6 492.1 L797.2 497.5 L799.9 493.1 L802.5 488.6 L805.3 495.1 L808 504.2 L810.6 501.2 L813.4 490 L816.1 484.6 L818.7 486 L821.6 483.4 L824.2 492.1 L826.8 490 L829.7 489 L832.3 491.5 L834.9 494.1 L837.8 493.1 L840.4 502.2 L843 508.3 L845.9 498.2 L848.5 488.6 L851.2 490 L854 498.2 L856.6 487 L859.3 478.9 L862.1 472.8 L864.7 468.8 L867.6 460.7 L870.2 468.4 L872.8 475.2 L875.5 479.3 L878.3 473.4 L881 480.9 L883.6 481.3 L886.4 484.6 L889.1 479.3 L891.7 478.5 L894.5 475.9 L897.2 482.5 L899.8 483 L902.6 472.8 L905.3 470.8 L907.9 473.4 L910.8 478.5 L913.4 472.4 L916 469.4 L918.9 472.4 L921.5 459.6 L924.2 462.3 L927 474.8 L929.7 484.6 L932.3 481.9 L934.9 472.4 L937.8 483.4 L940.4 479.9 L943 484 L945.9 492.1 L948.5 497.1 L951.4 500.2" stroke="#b868c6" stroke-width="1.05" fill="none" stroke-linejoin="round"/>
</g>
<g clip-path="url(#ax1)">
<path d="M958 69.3H961.3" stroke="#585b6c" stroke-width="1"/>
<text x="965.7" y="73.3" font-size="11" fill="#5d606c" textLength="36.7" lengthAdjust="spacingAndGlyphs">140.000</text>
<path d="M958 102.8H961.3" stroke="#585b6c" stroke-width="1"/>
<text x="965.7" y="106.8" font-size="11" fill="#5d606c" textLength="36.7" lengthAdjust="spacingAndGlyphs">130.000</text>
<path d="M958 136.3H961.3" stroke="#585b6c" stroke-width="1"/>
<text x="965.7" y="140.3" font-size="11" fill="#5d606c" textLength="36.7" lengthAdjust="spacingAndGlyphs">120.000</text>
<path d="M958 169.8H961.3" stroke="#585b6c" stroke-width="1"/>
<text x="965.7" y="173.8" font-size="11" fill="#5d606c" textLength="36.7" lengthAdjust="spacingAndGlyphs">110.000</text>
<path d="M958 203.3H961.3" stroke="#585b6c" stroke-width="1"/>
<text x="965.7" y="207.3" font-size="11" fill="#5d606c" textLength="36.7" lengthAdjust="spacingAndGlyphs">100.000</text>
<path d="M958 236.8H961.3" stroke="#585b6c" stroke-width="1"/>
<text x="965.7" y="240.8" font-size="11" fill="#5d606c" textLength="31.7" lengthAdjust="spacingAndGlyphs">90.000</text>
<path d="M958 270.3H961.3" stroke="#585b6c" stroke-width="1"/>
<text x="965.7" y="274.3" font-size="11" fill="#5d606c" textLength="31.7" lengthAdjust="spacingAndGlyphs">80.000</text>
<path d="M958 303.8H961.3" stroke="#585b6c" stroke-width="1"/>
<text x="965.7" y="307.8" font-size="11" fill="#5d606c" textLength="31.7" lengthAdjust="spacingAndGlyphs">70.000</text>
<path d="M958 337.3H961.3" stroke="#585b6c" stroke-width="1"/>
<text x="965.7" y="341.3" font-size="11" fill="#5d606c" textLength="31.7" lengthAdjust="spacingAndGlyphs">60.000</text>
<path d="M958 370.8H961.3" stroke="#585b6c" stroke-width="1"/>
<text x="965.7" y="374.8" font-size="11" fill="#5d606c" textLength="31.7" lengthAdjust="spacingAndGlyphs">50.000</text>
<path d="M958 404.3H961.3" stroke="#585b6c" stroke-width="1"/>
<text x="965.7" y="408.3" font-size="11" fill="#5d606c" textLength="31.7" lengthAdjust="spacingAndGlyphs">40.000</text>
</g>
<path d="M958 427.8H961.3" stroke="#585b6c" stroke-width="1"/>
<text x="965.3" y="431.8" font-size="11" fill="#5d606c" textLength="37.3" lengthAdjust="spacingAndGlyphs">80.0000</text>
<path d="M958 461.7H961.3" stroke="#585b6c" stroke-width="1"/>
<text x="965.3" y="465.7" font-size="11" fill="#5d606c" textLength="37.3" lengthAdjust="spacingAndGlyphs">60.0000</text>
<path d="M958 496H961.3" stroke="#585b6c" stroke-width="1"/>
<text x="965.3" y="500" font-size="11" fill="#5d606c" textLength="37.3" lengthAdjust="spacingAndGlyphs">40.0000</text>
<path d="M957.5 41V556" stroke="#585b6c" stroke-width="1" fill="none"/>
<path d="M53 406.3H1011" stroke="#585b6c" stroke-width="1" fill="none"/>
<path d="M53 556.5H1011" stroke="#e0e3eb" stroke-width="1" fill="none"/>
<rect x="956.9" y="239" width="47.9" height="16.9" fill="#ef5350"/>
<rect x="956.9" y="255.9" width="47.9" height="15.9" fill="#2196f3"/>
<path d="M957 247.3H960.4M957 263.5H960.4" stroke="#fff" stroke-width="1"/>
<text x="965" y="251" font-size="10.7" fill="#fff" textLength="32.2" lengthAdjust="spacingAndGlyphs" font-weight="bold">86.930</text>
<text x="965" y="267.3" font-size="10.7" fill="#fff" textLength="32.2" lengthAdjust="spacingAndGlyphs" font-weight="bold">86.041</text>
<path d="M92.4 530.5V533.5" stroke="#787b86" stroke-width="1"/>
<text x="81.9" y="548.7" font-size="11.5" fill="#5d606c" textLength="21" lengthAdjust="spacingAndGlyphs">Sept</text>
<path d="M208.2 530.5V533.5" stroke="#787b86" stroke-width="1"/>
<text x="199" y="548.7" font-size="11.5" fill="#5d606c" textLength="18.4" lengthAdjust="spacingAndGlyphs">Nov</text>
<path d="M329.8 530.5V533.5" stroke="#787b86" stroke-width="1"/>
<text x="317.4" y="548.7" font-size="11.5" fill="#5d606c" textLength="24.8" lengthAdjust="spacingAndGlyphs" font-weight="bold">2022</text>
<path d="M440.7 530.5V533.5" stroke="#787b86" stroke-width="1"/>
<text x="429.9" y="548.7" font-size="11.5" fill="#5d606c" textLength="21.6" lengthAdjust="spacingAndGlyphs">Mars</text>
<path d="M559.3 530.5V533.5" stroke="#787b86" stroke-width="1"/>
<text x="551" y="548.7" font-size="11.5" fill="#5d606c" textLength="16.5" lengthAdjust="spacingAndGlyphs">Mai</text>
<path d="M678.5 530.5V533.5" stroke="#787b86" stroke-width="1"/>
<text x="668.3" y="548.7" font-size="11.5" fill="#5d606c" textLength="20.4" lengthAdjust="spacingAndGlyphs">Juill</text>
<path d="M797.3 530.5V533.5" stroke="#787b86" stroke-width="1"/>
<text x="786.8" y="548.7" font-size="11.5" fill="#5d606c" textLength="21" lengthAdjust="spacingAndGlyphs">Sept</text>
<path d="M913 530.5V533.5" stroke="#787b86" stroke-width="1"/>
<text x="903.8" y="548.7" font-size="11.5" fill="#5d606c" textLength="18.4" lengthAdjust="spacingAndGlyphs">Nov</text>
<path d="M227.9 563.5V567M859.6 563.5V567" stroke="#c9ccd6" stroke-width="1"/>
</svg><svg width="1015" height="567" viewBox="0 0 1015 567" style="position:absolute;left:0;top:0" fill="none" stroke="#2a2e39" stroke-width="1.1" stroke-linecap="round" stroke-linejoin="round" font-family='"Liberation Sans", sans-serif'><text x="61.9" y="60.5" font-size="14" fill="#1c202b" textLength="33.5" lengthAdjust="spacingAndGlyphs" stroke="none">Brent</text><text x="100.9" y="60.5" font-size="14" fill="#1c202b" textLength="16.1" lengthAdjust="spacingAndGlyphs" stroke="none">Oil</text><text x="130.8" y="60.5" font-size="14" fill="#1c202b" textLength="14.2" lengthAdjust="spacingAndGlyphs" stroke="none">1D</text><text x="156.8" y="60.5" font-size="14" fill="#1c202b" textLength="27.8" lengthAdjust="spacingAndGlyphs" stroke="none">GTIS</text><text x="190.3" y="60.5" font-size="14" fill="#1c202b" textLength="49.1" lengthAdjust="spacingAndGlyphs" stroke="none">ENERGY</text><circle cx="123.5" cy="56.4" r="0.95" fill="#50535e" stroke="none"/><circle cx="150.9" cy="56.4" r="0.95" fill="#50535e" stroke="none"/><circle cx="265.3" cy="55.4" r="7.3" fill="#d3edea" stroke="none"/><circle cx="265.3" cy="55.4" r="3.9" fill="#1a9d8f" stroke="none"/><text x="289" y="60.6" font-size="11.7" fill="#5d606b" textLength="7.5" lengthAdjust="spacingAndGlyphs" stroke="none">O</text><text x="296.5" y="60.6" font-size="11.7" fill="#ef5350" textLength="34.8" lengthAdjust="spacingAndGlyphs" stroke="#ef5350" stroke-width="0.3">87.680</text><text x="338.4" y="60.6" font-size="11.7" fill="#5d606b" textLength="7.3" lengthAdjust="spacingAndGlyphs" stroke="none">H</text><text x="345.7" y="60.6" font-size="11.7" fill="#ef5350" textLength="35" lengthAdjust="spacingAndGlyphs" stroke="#ef5350" stroke-width="0.3">87.940</text><text x="387.2" y="60.6" font-size="11.7" fill="#5d606b" textLength="6.6" lengthAdjust="spacingAndGlyphs" stroke="none">B</text><text x="393.8" y="60.6" font-size="11.7" fill="#ef5350" textLength="34.4" lengthAdjust="spacingAndGlyphs" stroke="#ef5350" stroke-width="0.3">86.360</text><text x="435.3" y="60.6" font-size="11.7" fill="#5d606b" textLength="6.9" lengthAdjust="spacingAndGlyphs" stroke="none">C</text><text x="442.2" y="60.6" font-size="11.7" fill="#ef5350" textLength="33.8" lengthAdjust="spacingAndGlyphs" stroke="#ef5350" stroke-width="0.3">86.930</text><text x="482.4" y="60.6" font-size="11.7" fill="#ef5350" textLength="34.8" lengthAdjust="spacingAndGlyphs" stroke="#ef5350" stroke-width="0.3">−0.890</text><text x="521.5" y="60.6" font-size="11.7" fill="#ef5350" textLength="43.2" lengthAdjust="spacingAndGlyphs" stroke="#ef5350" stroke-width="0.3">(−1.01%)</text><rect x="60.5" y="68.4" width="18" height="18" rx="3" fill="#fff" stroke="#d5d9e4" stroke-width="1"/><path d="M66.1 75.8l3.4 3.1l3.4 -3.1" stroke="#131722" stroke-width="1.4"/><rect x="60.5" y="412.4" width="18" height="18" rx="3" fill="#fff" stroke="#d5d9e4" stroke-width="1"/><path d="M66.1 419.8l3.4 3.1l3.4 -3.1" stroke="#131722" stroke-width="1.4"/><text x="86.3" y="80.7" font-size="11.7" fill="#2a2e39" textLength="36.9" lengthAdjust="spacingAndGlyphs" stroke="none">Volume</text><text x="134.3" y="80.7" font-size="11.7" fill="#ef5350" textLength="5.6" lengthAdjust="spacingAndGlyphs" stroke="#ef5350" stroke-width="0.3">0</text><text x="86.3" y="102.8" font-size="11.7" fill="#2a2e39" textLength="76.3" lengthAdjust="spacingAndGlyphs" stroke="none">MA 200 close 0</text><text x="173" y="102.8" font-size="11.7" fill="#2323f0" textLength="46.7" lengthAdjust="spacingAndGlyphs" stroke="#2323f0" stroke-width="0.3">102.8973</text><text x="86.3" y="123.8" font-size="11.7" fill="#2a2e39" textLength="70.1" lengthAdjust="spacingAndGlyphs" stroke="none">MA 10 close 0</text><text x="166.3" y="123.8" font-size="11.7" fill="#26c1d6" textLength="41.4" lengthAdjust="spacingAndGlyphs" stroke="#26c1d6" stroke-width="0.3">91.9930</text><text x="222.5" y="145.9" font-size="11.7" fill="#2323f0" textLength="46" lengthAdjust="spacingAndGlyphs" stroke="#2323f0" stroke-width="0.3">107.7932</text><rect x="81.5" y="131.3" width="153.2" height="21.2" rx="2.5" fill="#fff" stroke="#d1d4dc" stroke-width="1"/><text x="86.3" y="145.9" font-size="11.7" fill="#2a2e39" textLength="38.1" lengthAdjust="spacingAndGlyphs" stroke="none">BB 20 2</text><path d="M130.7 135.5V148.5" stroke="#d1d4dc" stroke-width="1" stroke-linecap="butt"/><path d="M138.6 142C140.7 138.6 142.9 137 145.4 137S150.1 138.6 152.2 142C150.1 145.4 147.9 147 145.4 147S140.7 145.4 138.6 142Z" stroke-width="1.1"/><circle cx="145.4" cy="142" r="2.2" stroke-width="1.1"/><path d="M169.4 137.4 L169.7 136 L171.3 136 L171.6 137.4 L173 138 L174.2 137.2 L175.3 138.3 L174.5 139.5 L175.1 140.9 L176.5 141.2 L176.5 142.8 L175.1 143.1 L174.5 144.5 L175.3 145.7 L174.2 146.8 L173 146 L171.6 146.6 L171.3 148 L169.7 148 L169.4 146.6 L168 146 L166.8 146.8 L165.7 145.7 L166.5 144.5 L165.9 143.1 L164.5 142.8 L164.5 141.2 L165.9 140.9 L166.5 139.5 L165.7 138.3 L166.8 137.2 L168 138Z" stroke-width="1.05" stroke-linejoin="round"/><circle cx="170.5" cy="142" r="2.0" stroke-width="1.05"/><path d="M191.6 137.6L200.2 146.2M200.2 137.6L191.6 146.2" stroke-width="1.15"/><circle cx="216.2" cy="142" r="1.3" stroke-width="1"/><circle cx="221" cy="142" r="1.3" stroke-width="1"/><circle cx="225.8" cy="142" r="1.3" stroke-width="1"/><rect x="910.6" y="46.6" width="18" height="17.6" rx="2.5" fill="#fff" stroke="#d1d4dc" stroke-width="1"/><rect x="933.8" y="46.6" width="18" height="17.6" rx="2.5" fill="#fff" stroke="#d1d4dc" stroke-width="1"/><path d="M919.6 50.6V60M916 56.6L919.6 60.2L923.2 56.6" stroke-width="1.05"/><path d="M938.6 53.2V52.2a1.9 1.9 0 0 1 1.9 -1.9H945.1a1.9 1.9 0 0 1 1.9 1.9V53.2M938.6 57.6V58.6a1.9 1.9 0 0 0 1.9 1.9H945.1a1.9 1.9 0 0 0 1.9 -1.9V57.6" stroke-width="1.05"/><text x="86.3" y="424.5" font-size="11.7" fill="#2a2e39" textLength="30.6" lengthAdjust="spacingAndGlyphs" stroke="none">RSI 14</text><text x="127.5" y="424.5" font-size="11.7" fill="#8e1a93" textLength="40.4" lengthAdjust="spacingAndGlyphs" stroke="#8e1a93" stroke-width="0.3">37.8756</text><circle cx="74" cy="510.6" r="15.5" fill="#dfe1e7" stroke="none" opacity="0.75"/><circle cx="74" cy="510.4" r="14.6" fill="#fff" stroke="none"/><path d="M68 515.4a3.4 3.4 0 0 1 -0.3 -6.7a5 5 0 0 1 9.3 -2a4.4 4.4 0 0 1 5.4 2.9a3.1 3.1 0 0 1 -0.5 5.8Z" fill="#2798ee" stroke="none"/><path d="M66.2 513.6L71.9 508.5L76.9 512.9L80.9 509.2" stroke="#fff" stroke-width="1.4"/><path d="M987.8 544L990.1 544M986.5 547.1L988.1 548.7M983.4 548.4L983.4 550.7M980.3 547.1L978.7 548.7M979 544L976.7 544M980.3 540.9L978.7 539.3M983.4 539.6L983.4 537.3M986.5 540.9L988.1 539.3" stroke="#131722" stroke-width="1.2" stroke-linecap="butt"/><circle cx="983.4" cy="544" r="4.1" fill="#fff" stroke="#131722" stroke-width="1.25"/></svg></div>
<div class="top-toolbar" role="toolbar" aria-label="Chart toolbar"><svg width="1015" height="41" viewBox="0 0 1015 41" fill="none" stroke="#2a2e39" stroke-width="1.1" stroke-linecap="round" stroke-linejoin="round" font-family='"Liberation Sans", sans-serif'><path d="M87.5 6V40M122.5 6V40M218.7 6V40M322.6 6V40M421.3 6V40M478.4 6V40M816.4 6V40M941.6 6V40M976.3 6V40" stroke="#e0e3eb" stroke-width="1" stroke-linecap="butt"/><path d="M53 40.5H1011" stroke="#e0e3eb" stroke-width="1" stroke-linecap="butt"/><text x="67.1" y="27.9" font-size="12.2" fill="#131722" textLength="7" lengthAdjust="spacingAndGlyphs" stroke="#131722" stroke-width="0.2">D</text><path d="M101.5 14.3V17.4M101.5 30V32.6M108.5 17.1V20.2M108.5 27V29.7" stroke-linecap="butt" stroke-width="1.15"/><rect x="99.7" y="17.8" width="3.6" height="11.7" rx="0.3"/><rect x="106.7" y="20.7" width="3.6" height="5.8" rx="0.3"/><circle cx="139.1" cy="23.9" r="7.7"/><path d="M135.2 23.9H143M139.1 20V27.8" stroke-width="1.25" stroke-linecap="butt"/><text x="154.9" y="27.9" font-size="12.2" fill="#131722" textLength="53.7" lengthAdjust="spacingAndGlyphs" stroke="#131722" stroke-width="0.2">Comparer</text><path d="M239.9 17.5C238.6 16.2 236.2 16.3 235.8 18.9L234.7 27.2C234.3 29.9 232.2 30.3 230.5 29.2M231.7 21.6H238.9" stroke-width="1.1"/><path d="M237 27.3L241.6 31M241.6 27.3L237 31" stroke-width="0.95"/><text x="251.4" y="27.9" font-size="12.2" fill="#131722" textLength="61.5" lengthAdjust="spacingAndGlyphs" stroke="#131722" stroke-width="0.2">Indicateurs</text><path d="M333 20.9L337.2 17L342.4 20.9L348.9 16.2" stroke-width="1.05"/><path d="M333.4 27.2V30.5M336.6 25.3V30.5M339.8 27.2V30.5M343 25.3V30.5M345.8 27.2V30.5M348.8 23.4V30.5" stroke="#50535e" stroke-width="1.05" stroke-linecap="butt"/><text x="355.1" y="27.9" font-size="12.2" fill="#131722" textLength="56.6" lengthAdjust="spacingAndGlyphs" stroke="#131722" stroke-width="0.2">Templates</text><path d="M434.7 19L431.4 22.1L434.7 25.2M431.7 22.1H438.2a4.4 4.6 0 0 1 4.4 4.6V27.7" stroke-width="1.25"/><path d="M464.5 19L467.8 22.1L464.5 25.2M467.5 22.1H461a4.4 4.6 0 0 0 -4.4 4.6V27.7" stroke="#cfd2da" stroke-width="1.25"/><path d="M827.4 30.2H839.6a4.1 4.1 0 0 0 0.6 -8.2a6.6 6.6 0 0 0 -12.6 -1.6a5 5 0 0 0 -0.2 9.8Z" stroke-dasharray="2.6 1.7" stroke-width="1" stroke="#4a4e59" stroke-linecap="butt"/><text x="848.5" y="27.6" font-size="12.2" fill="#131722" textLength="68.2" lengthAdjust="spacingAndGlyphs" stroke="#131722" stroke-width="0.2">Sauvegarder</text><path d="M929 22.3L932.3 25.4L935.6 22.3" stroke-width="1.1"/><path d="M957 17 L957.4 14.9 L959.6 14.9 L960 17 L961.9 17.8 L963.7 16.6 L965.3 18.2 L964.1 20 L964.9 21.9 L967 22.3 L967 24.5 L964.9 24.9 L964.1 26.8 L965.3 28.6 L963.7 30.2 L961.9 29 L960 29.8 L959.6 31.9 L957.4 31.9 L957 29.8 L955.1 29 L953.3 30.2 L951.7 28.6 L952.9 26.8 L952.1 24.9 L950 24.5 L950 22.3 L952.1 21.9 L952.9 20 L951.7 18.2 L953.3 16.6 L955.1 17.8Z" stroke-width="1.1" stroke-linejoin="round"/><circle cx="958.5" cy="23.4" r="2.35" stroke-width="1.1"/><path d="M986.4 20.4V16.6H990.2M986.7 16.9L990.6 20.8M996.6 16.6H1000.4V20.4M1000.1 16.9L996.2 20.8M986.4 26.8V30.6H990.2M986.7 30.3L990.6 26.4M1000.4 26.8V30.6H996.6M1000.1 30.3L996.2 26.4" stroke-width="1.2"/></svg></div>
<div class="left-toolbar" role="toolbar" aria-label="Drawing tools"><svg width="50" height="567" viewBox="0 0 50 567" fill="none" stroke="#2a2e39" stroke-width="1.15" stroke-linecap="round" stroke-linejoin="round"><path d="M16.8 27.7H23.8M29.6 27.7H36.8M26.7 17.4V24.6M26.7 30.8V38.2" stroke="#7cbcf3" stroke-width="1.5" stroke-linecap="butt"/><path d="M21.2 63.6L30.2 54.5M24.6 69.8L28.7 65.7M31.5 62.9L36.5 58"/><circle cx="31.6" cy="53.1" r="1.9" fill="#fff"/><circle cx="19.8" cy="65" r="1.9" fill="#fff"/><circle cx="30.1" cy="64.3" r="1.9" fill="#fff"/><path d="M25.9 82.8L20.5 88.8M20.7 91.6L27.7 98.7M20.7 98.7L31.6 87.7M30.5 98.7L36.5 91.9"/><circle cx="19.3" cy="90.2" r="1.9" fill="#fff"/><circle cx="19.3" cy="100.1" r="1.9" fill="#fff"/><circle cx="29.1" cy="100.1" r="1.9" fill="#fff"/><path d="M21.2 117.3H32.2M21.2 132.2H32.2M19.3 119.2V130.3M34.1 119.2V130.3"/><circle cx="19.3" cy="117.3" r="1.9" fill="#fff"/><circle cx="34.1" cy="117.3" r="1.9" fill="#fff"/><circle cx="19.3" cy="132.2" r="1.9" fill="#fff"/><circle cx="34.1" cy="132.2" r="1.9" fill="#fff"/><path d="M21.4 152.4V150.2H32.8V152.4M27.1 150.2V165.4M24.8 165.4H29.4" stroke="#4a4e59" stroke-width="1.05" stroke-linecap="butt" stroke-linejoin="miter"/><path d="M21.3 183.3L18.9 195.5M22.9 182.9L24.5 186.5M27 187.2L31.8 183.6M33.6 184.3L35 192.5M27 189.2L33.7 193.4M24.3 189.6L19.7 195.9"/><circle cx="21.7" cy="181.5" r="1.9" fill="#fff"/><circle cx="33.3" cy="182.5" r="1.9" fill="#fff"/><circle cx="25.6" cy="188.1" r="1.9" fill="#fff"/><circle cx="18.5" cy="197.3" r="1.9" fill="#fff"/><circle cx="35.3" cy="194.3" r="1.9" fill="#fff"/><path d="M19.7 214H36.5M19.7 230.8H36.5" stroke="#6a6d78"/><path d="M19.7 224.4H33.9M26.7 217.6V228"/><path d="M25 219L26.7 216.4L28.4 219ZM25 226.6L26.7 229.2L28.4 226.6Z" fill="#2a2e39" stroke-width="0.6"/><circle cx="17.8" cy="214" r="1.9" fill="#fff"/><circle cx="17.8" cy="224.4" r="1.9" fill="#fff"/><circle cx="35.8" cy="224.4" r="1.9" fill="#fff"/><circle cx="17.8" cy="230.8" r="1.9" fill="#fff"/><path d="M33.7 254.3H22.6M27.4 248L21.6 254.3L27.4 260.6" stroke="#131722" stroke-width="2.8" stroke-linecap="butt" stroke-linejoin="miter"/><path d="M3 276.2H50M3 352H50" stroke="#e0e3eb" stroke-width="1" stroke-linecap="butt"/><g transform="translate(26.4 298.3) rotate(-45)"><rect x="-11.4" y="-3.2" width="22.8" height="6.4" rx="1.4"/><path d="M-7.6 -3.2V-0.6M-4.6 -3.2V-1.2M-1.6 -3.2V-0.6M1.4 -3.2V-1.2M4.4 -3.2V-0.6M7.4 -3.2V-1.2" stroke-width="1"/></g><circle cx="25" cy="329.2" r="6.8"/><path d="M22 329.2H28M25 326.2V332.2M30.1 334.2L33.8 337.6"/><path d="M19.6 382.2V373.3a7.1 7.1 0 0 1 14.2 0V382.2H28.9V373.6a2.2 2.2 0 0 0 -4.4 0V382.2Z"/><path d="M19.6 378.6H24.5M28.9 378.6H33.8"/><g transform="translate(23.6 404.3) rotate(-45)"><path d="M-9.8 0L-6.6 -2.7H7.6a1.5 1.5 0 0 1 1.5 1.5V1.2a1.5 1.5 0 0 1 -1.5 1.5H-6.6Z"/><path d="M-6.6 -2.7V2.7M5.6 -2.7V2.7M-6.6 0H5.6" stroke-width="0.85"/></g><rect x="27.6" y="409.4" width="7.6" height="6" rx="1" fill="#fff"/><path d="M29.4 409.4V407.6a2.1 2.1 0 0 1 4.2 0" /><circle cx="31.4" cy="412.4" r="0.7" fill="#2a2e39" stroke="none"/><rect x="19.6" y="437.7" width="13.4" height="10.3" rx="1.8"/><path d="M23.6 437.7V433a3 3 0 0 1 5.9 -0.7"/><ellipse cx="26.4" cy="443.6" rx="0.9" ry="1.4" fill="#2a2e39" stroke="none"/><path d="M17.8 471.9C20.4 467.7 23.3 465.8 26.5 465.8S32.6 467.7 35.2 471.9C32.6 476.1 29.7 478 26.5 478S20.4 476.1 17.8 471.9Z"/><circle cx="26.5" cy="471.9" r="2.9" fill="#131722" stroke="none"/><path d="M20.4 509.4H32.2V522.2a2.3 2.3 0 0 1 -2.3 2.3H22.7a2.3 2.3 0 0 1 -2.3 -2.3Z"/><path d="M20.4 509.4H32.2M23.2 507.6H29.4" stroke-width="1.6" stroke="#50535e"/><path d="M23.8 512.6V521.2M26.3 512.6V521.2M28.8 512.6V521.2" stroke-width="1.1"/></svg></div>
<div class="splitter"></div>
<div class="toggle-tab"><svg width="8" height="22" viewBox="0 0 8 22"><path d="M5.2 8.6L3 11.4L5.2 14.2" fill="none" stroke="#9cc4ee" stroke-width="1"/></svg></div>
</div></body></html>
